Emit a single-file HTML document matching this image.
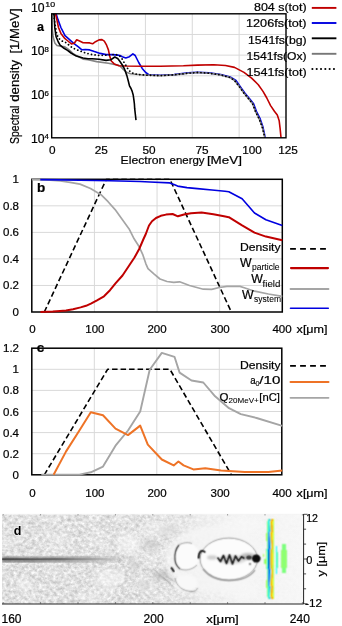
<!DOCTYPE html>
<html><head><meta charset="utf-8"><style>
html,body{margin:0;padding:0;background:#fff;width:342px;height:626px;overflow:hidden}
svg{display:block;will-change:transform}
text{font-family:"Liberation Sans", sans-serif;fill:#000;stroke:#000;stroke-width:0.22px;paint-order:stroke}
</style></head><body>
<svg width="342" height="626" viewBox="0 0 342 626">
<defs>
<clipPath id="clipA"><rect x="51.7" y="13.8" width="234.3" height="124.00000000000001"/></clipPath>
<clipPath id="clipB"><rect x="31.8" y="179.3" width="250.5" height="132.7"/></clipPath>
<clipPath id="clipC"><rect x="31.8" y="348.2" width="250.0" height="126.60000000000002"/></clipPath>
<clipPath id="clipB2"><rect x="30.8" y="178.3" width="252.5" height="134.7"/></clipPath>
<clipPath id="clipC2"><rect x="30.8" y="347.2" width="252.0" height="128.60000000000002"/></clipPath>
<clipPath id="clipD"><rect x="2.0" y="514.0" width="301.6" height="90.0"/></clipPath>
<filter id="blot" x="0" y="0" width="100%" height="100%" color-interpolation-filters="sRGB"><feTurbulence type="fractalNoise" baseFrequency="0.28 0.32" numOctaves="3" seed="7"/><feColorMatrix type="matrix" values="0.36 0 0 0 0.695  0.36 0 0 0 0.695  0.36 0 0 0 0.695  0 0 0 0 1"/></filter>
<filter id="grain" x="0" y="0" width="100%" height="100%" color-interpolation-filters="sRGB"><feTurbulence type="fractalNoise" baseFrequency="0.045 0.06" numOctaves="2" seed="19"/><feColorMatrix type="matrix" values="0 0 0 0 1  0 0 0 0 1  0 0 0 0 1  1.2 0 0 0 -0.5"/></filter>
<linearGradient id="texfade" gradientUnits="userSpaceOnUse" x1="2" y1="0" x2="304" y2="0"><stop offset="0" stop-color="#fff"/><stop offset="0.45" stop-color="#fff"/><stop offset="0.58" stop-color="#bbb"/><stop offset="0.66" stop-color="#555"/><stop offset="0.8" stop-color="#1a1a1a"/><stop offset="1" stop-color="#111"/></linearGradient>
<mask id="texmask" maskUnits="userSpaceOnUse" x="0" y="500" width="342" height="120"><rect x="2" y="514" width="302" height="90" fill="url(#texfade)"/></mask>
<filter id="blur1" x="-20%" y="-300%" width="140%" height="700%"><feGaussianBlur stdDeviation="1"/></filter>
<filter id="blur2" x="-50%" y="-300%" width="200%" height="700%"><feGaussianBlur stdDeviation="2.5"/></filter>
<filter id="blur05" x="-20%" y="-50%" width="140%" height="200%"><feConvolveMatrix order="3" kernelMatrix="1 2 1 2 8 2 1 2 1" divisor="20" edgeMode="none"/></filter>
<filter id="blur04" x="-20%" y="-20%" width="140%" height="140%"><feConvolveMatrix order="3" kernelMatrix="1 2 1 2 4 2 1 2 1" divisor="16" edgeMode="none"/></filter>
<filter id="blur03" x="-20%" y="-20%" width="140%" height="140%"><feConvolveMatrix order="3" kernelMatrix="1 2 1 2 12 2 1 2 1" divisor="24" edgeMode="none"/></filter>
<linearGradient id="dbg" gradientUnits="userSpaceOnUse" x1="2" y1="0" x2="304" y2="0"><stop offset="0" stop-color="#e4e4e4"/><stop offset="0.33" stop-color="#e7e7e7"/><stop offset="0.45" stop-color="#eaeaea"/><stop offset="0.56" stop-color="#eeeeee"/><stop offset="0.68" stop-color="#f4f4f4"/><stop offset="1" stop-color="#f9f9f9"/></linearGradient>
<linearGradient id="haloG" gradientUnits="userSpaceOnUse" x1="2" y1="0" x2="140" y2="0"><stop offset="0" stop-color="#a0a0a0"/><stop offset="0.6" stop-color="#a0a0a0"/><stop offset="1" stop-color="#a0a0a0" stop-opacity="0"/></linearGradient>
<linearGradient id="bandg" gradientUnits="userSpaceOnUse" x1="2" y1="0" x2="125" y2="0"><stop offset="0" stop-color="#444" stop-opacity="1"/><stop offset="0.2" stop-color="#555" stop-opacity="1"/><stop offset="0.45" stop-color="#666" stop-opacity="0.95"/><stop offset="0.65" stop-color="#888" stop-opacity="0.8"/><stop offset="0.85" stop-color="#aaa" stop-opacity="0.5"/><stop offset="1" stop-color="#c0c0c0" stop-opacity="0"/></linearGradient>
</defs>
<line x1="98.56" y1="13.8" x2="98.56" y2="137.8" stroke="#d9d9d9" stroke-width="1"/>
<line x1="145.42" y1="13.8" x2="145.42" y2="137.8" stroke="#d9d9d9" stroke-width="1"/>
<line x1="192.28" y1="13.8" x2="192.28" y2="137.8" stroke="#d9d9d9" stroke-width="1"/>
<line x1="239.14" y1="13.8" x2="239.14" y2="137.8" stroke="#d9d9d9" stroke-width="1"/>
<line x1="51.7" y1="117.13" x2="286.0" y2="117.13" stroke="#d9d9d9" stroke-width="1"/>
<line x1="51.7" y1="96.47" x2="286.0" y2="96.47" stroke="#d9d9d9" stroke-width="1"/>
<line x1="51.7" y1="75.80" x2="286.0" y2="75.80" stroke="#d9d9d9" stroke-width="1"/>
<line x1="51.7" y1="55.13" x2="286.0" y2="55.13" stroke="#d9d9d9" stroke-width="1"/>
<line x1="51.7" y1="34.47" x2="286.0" y2="34.47" stroke="#d9d9d9" stroke-width="1"/>
<g clip-path="url(#clipA)">
<polyline points="55.9,13.0 57.9,19.4 60.9,27.5 65.0,35.7 69.0,39.2 73.7,43.3 78.4,46.8 81.9,49.8 85.4,49.5 89.7,49.9 94.4,51.6 100.2,53.4 106.1,54.6 113.1,54.6 117.7,55.1 120.0,55.5 122.3,56.7 125.8,57.9 129.4,56.7 132.9,53.8 135.2,55.5 138.7,62.5 142.2,68.4 145.7,72.5 149.2,74.8 160.0,75.2 174.0,74.6 188.1,72.9 197.4,72.2 209.1,72.9 220.8,74.6 230.2,77.0 236.0,80.5 240.3,86.6 245.0,93.3 249.8,99.0 253.6,103.7 256.4,111.3 260.2,118.9 262.8,126.5 264.5,134.1 265.2,138.5" fill="none" stroke="#0000e0" stroke-width="1.6" stroke-linejoin="round" stroke-linecap="butt"/>
<polyline points="52.1,13.0 52.1,20.0 52.2,28.0 53.1,36.8 54.8,42.9 57.0,45.5 61.4,46.4 64.9,46.9 67.5,48.6 70.2,50.8 72.8,53.4 76.3,55.5 83.1,59.1 88.0,59.7 96.7,61.6 108.4,63.3 117.7,65.1 120.0,66.0 123.5,69.6 127.0,72.5 130.5,73.7 135.2,74.2 141.0,74.8 149.2,75.2 160.0,75.6 174.0,74.9 188.1,73.2 197.4,72.5 209.1,73.2 220.8,74.9 225.0,76.2 230.2,77.6 234.5,80.5 239.3,86.6 244.0,93.3 248.8,99.0 252.6,103.7 255.4,111.3 259.2,118.9 262.1,126.5 264.0,134.1 264.9,138.5" fill="none" stroke="#858585" stroke-width="1.6" stroke-linejoin="round" stroke-linecap="butt"/>
<polyline points="55.3,13.0 56.8,19.4 58.5,27.5 60.9,33.4 64.4,38.1 67.9,41.0 71.4,43.9 74.3,43.3 76.7,39.8 79.6,41.0 83.1,42.7 89.7,42.9 92.6,43.8 95.5,41.7 99.0,39.9 102.0,39.6 104.3,41.1 106.6,45.2 108.4,49.9 109.6,55.7 111.3,61.0 114.2,63.9 118.9,65.7 125.0,66.0 143.4,66.2 160.0,66.2 183.4,65.8 197.4,65.1 213.8,64.8 225.5,65.5 234.5,67.4 244.0,72.4 251.6,78.1 258.3,84.7 263.0,91.4 266.8,98.0 270.6,105.6 274.4,111.3 277.3,115.1 279.2,120.8 280.1,128.4 281.1,138.5" fill="none" stroke="#c00000" stroke-width="1.6" stroke-linejoin="round" stroke-linecap="butt"/>
<polyline points="54.0,13.0 54.4,20.0 54.8,28.0 56.1,36.8 58.3,42.0 60.1,45.1 63.2,47.7 67.5,50.4 71.0,53.0 76.3,56.1 83.1,58.0 88.0,58.8 92.0,58.7 99.0,59.2 106.1,60.4 110.7,59.8 114.8,57.0 117.7,58.5 119.8,61.3 122.0,64.5 124.2,68.3 126.8,75.4 128.3,81.0 129.5,85.9 131.0,88.5 132.1,91.1 133.2,95.0 133.9,99.9 134.4,104.0 134.7,108.7 135.3,114.0 136.0,120.1" fill="none" stroke="#000" stroke-width="1.6" stroke-linejoin="round" stroke-linecap="butt"/>
<polyline points="53.8,14.7 55.0,24.0 56.8,34.6 59.1,38.7 62.0,41.0 66.1,42.7 72.6,48.0 79.6,50.9 86.6,53.3 92.0,54.6 99.0,55.5 106.1,55.1 111.9,54.6 116.0,54.5 120.1,56.3 121.8,58.5 124.1,62.5 126.4,66.0 128.2,69.6 131.1,72.5 135.2,74.0 141.0,74.8 149.2,75.2 160.0,75.6 174.0,74.9 188.1,73.2 197.4,72.5 209.1,73.2 220.8,74.9 225.0,76.2 230.2,77.6 234.5,80.5 239.3,86.6 244.0,93.3 248.8,99.0 252.6,103.7 255.4,111.3 259.2,118.9 262.1,126.5 264.0,134.1 264.9,138.5" fill="none" stroke="#000" stroke-width="1.8" stroke-linejoin="round" stroke-dasharray="0.01,3.6" stroke-linecap="round"/>
</g>
<rect x="51.7" y="13.8" width="234.3" height="124.00000000000001" fill="none" stroke="#000" stroke-width="1.4"/>
<text x="31.0" y="11.8" font-size="12" textLength="13.6" lengthAdjust="spacingAndGlyphs">10</text>
<text x="45.3" y="7.2" font-size="7.8" textLength="9.8" lengthAdjust="spacingAndGlyphs">10</text>
<text x="31.0" y="54.6" font-size="12" textLength="13.6" lengthAdjust="spacingAndGlyphs">10</text>
<text x="44.6" y="51.5" font-size="7.8">8</text>
<text x="31.0" y="99.3" font-size="12" textLength="13.6" lengthAdjust="spacingAndGlyphs">10</text>
<text x="44.6" y="95.8" font-size="7.8">6</text>
<text x="31.0" y="143.4" font-size="12" textLength="13.6" lengthAdjust="spacingAndGlyphs">10</text>
<text x="44.6" y="138.7" font-size="7.8">4</text>
<text x="52.2" y="154.4" font-size="11.8" text-anchor="middle">0</text>
<text x="101.3" y="154.4" font-size="11.8" text-anchor="middle">25</text>
<text x="149.0" y="154.4" font-size="11.8" text-anchor="middle">50</text>
<text x="202" y="154.4" font-size="11.8" text-anchor="middle">75</text>
<text x="252" y="154.4" font-size="11.8" text-anchor="middle">100</text>
<text x="288" y="154.4" font-size="11.8" text-anchor="middle">125</text>
<text x="120.6" y="164.3" font-size="11.8" textLength="44.8" lengthAdjust="spacingAndGlyphs">Electron</text>
<text x="169.6" y="164.3" font-size="11.8" textLength="35.0" lengthAdjust="spacingAndGlyphs">energy</text>
<text x="206.9" y="164.3" font-size="11.8" textLength="35.0" lengthAdjust="spacingAndGlyphs">[MeV]</text>
<text x="0" y="0" font-size="12.3" transform="translate(19.3,143.9) rotate(-90)" textLength="38.3" lengthAdjust="spacingAndGlyphs">Spectral</text>
<text x="0" y="0" font-size="12.3" transform="translate(19.3,101.7) rotate(-90)" textLength="41.7" lengthAdjust="spacingAndGlyphs">density</text>
<text x="0" y="0" font-size="12.3" transform="translate(19.3,53.6) rotate(-90)" textLength="45.2" lengthAdjust="spacingAndGlyphs">[1/MeV]</text>
<text x="37" y="31" font-size="12.5" font-weight="bold">a</text>
<text x="306.6" y="11.4" font-size="11.5" text-anchor="end" textLength="52.60000000000002" lengthAdjust="spacingAndGlyphs">804 s(tot)</text>
<polyline points="311.8,7.9 336.4,7.9" fill="none" stroke="#c00000" stroke-width="1.9" stroke-linejoin="round" stroke-linecap="butt"/>
<text x="306.6" y="26.6" font-size="11.5" text-anchor="end" textLength="60.60000000000002" lengthAdjust="spacingAndGlyphs">1206fs(tot)</text>
<polyline points="311.8,23.0 336.4,23.0" fill="none" stroke="#0000e0" stroke-width="1.9" stroke-linejoin="round" stroke-linecap="butt"/>
<text x="306.6" y="43.6" font-size="11.5" text-anchor="end" textLength="58.60000000000002" lengthAdjust="spacingAndGlyphs">1541fs(bg)</text>
<polyline points="311.8,38.3 336.4,38.3" fill="none" stroke="#000" stroke-width="1.9" stroke-linejoin="round" stroke-linecap="butt"/>
<text x="306.6" y="59.5" font-size="11.5" text-anchor="end" textLength="60.00000000000003" lengthAdjust="spacingAndGlyphs">1541fs(Ox)</text>
<polyline points="311.8,53.8 336.4,53.8" fill="none" stroke="#777" stroke-width="1.9" stroke-linejoin="round" stroke-linecap="butt"/>
<text x="306.6" y="75.5" font-size="11.5" text-anchor="end" textLength="60.00000000000003" lengthAdjust="spacingAndGlyphs">1541fs(tot)</text>
<polyline points="312.4,69.0 335.6,69.0" fill="none" stroke="#000" stroke-width="2.1" stroke-linejoin="round" stroke-dasharray="0.01,4.3" stroke-linecap="round"/>
<line x1="94.42" y1="179.3" x2="94.42" y2="312.0" stroke="#d9d9d9" stroke-width="1"/>
<line x1="157.05" y1="179.3" x2="157.05" y2="312.0" stroke="#d9d9d9" stroke-width="1"/>
<line x1="219.68" y1="179.3" x2="219.68" y2="312.0" stroke="#d9d9d9" stroke-width="1"/>
<line x1="31.8" y1="285.46" x2="282.3" y2="285.46" stroke="#d9d9d9" stroke-width="1"/>
<line x1="31.8" y1="258.92" x2="282.3" y2="258.92" stroke="#d9d9d9" stroke-width="1"/>
<line x1="31.8" y1="232.38" x2="282.3" y2="232.38" stroke="#d9d9d9" stroke-width="1"/>
<line x1="31.8" y1="205.84" x2="282.3" y2="205.84" stroke="#d9d9d9" stroke-width="1"/>
<rect x="31.8" y="179.3" width="250.5" height="132.7" fill="none" stroke="#000" stroke-width="1.5"/>
<g clip-path="url(#clipB2)">
<polyline points="44.3,312.0 106.3,179.3 169.9,179.3 231.3,312.0" fill="none" stroke="#000" stroke-width="1.6" stroke-linejoin="round" stroke-linecap="butt" stroke-dasharray="5.5,3"/>
<polyline points="31.8,179.6 50.0,180.2 60.4,181.0 70.0,182.3 80.0,184.1 90.5,188.5 101.0,194.7 108.1,201.7 115.1,209.6 122.1,219.2 129.1,228.9 134.1,238.8 139.2,246.8 142.9,254.9 145.8,263.6 148.0,268.7 153.9,273.9 160.0,279.0 167.0,281.5 173.7,282.4 179.6,281.8 189.5,285.5 203.3,289.2 211.7,289.3 219.3,287.5 226.9,286.4 240.0,286.4 245.0,288.0 254.6,291.2 268.4,294.0 282.3,296.4" fill="none" stroke="#a5a5a5" stroke-width="1.7" stroke-linejoin="round" stroke-linecap="butt"/>
<polyline points="40.4,311.9 52.8,311.6 60.0,311.0 66.0,310.4 73.0,309.2 80.6,307.4 86.0,305.8 90.9,303.6 97.0,300.3 104.0,296.3 110.0,290.2 115.7,283.2 122.5,275.5 129.0,265.8 134.5,257.5 139.2,249.0 143.5,239.0 145.8,234.0 147.3,230.0 149.0,225.5 152.0,221.2 156.0,218.0 160.8,215.8 166.0,214.6 172.6,214.0 177.9,216.3 184.0,214.5 191.0,213.2 201.6,212.6 213.4,214.2 224.0,216.2 228.8,217.2 242.1,225.4 254.5,232.6 265.9,236.6 282.3,240.3" fill="none" stroke="#c00000" stroke-width="2.0" stroke-linejoin="round" stroke-linecap="butt"/>
</g>
<polyline points="40.3,179.6 60.0,179.9 80.0,180.2 110.0,180.7 140.0,181.5 150.0,182.0 169.7,182.9 174.0,184.5 177.6,186.1 187.0,187.6 197.4,188.6 212.0,190.0 225.0,191.2 228.8,191.7 242.1,198.8 254.5,213.0 265.9,219.7 282.3,225.4" fill="none" stroke="#0000e0" stroke-width="1.6" stroke-linejoin="round" stroke-linecap="butt"/>
<text x="19.0" y="183.3" font-size="11.5" text-anchor="end">1</text>
<text x="19.0" y="209.84" font-size="11.5" text-anchor="end">0.8</text>
<text x="19.0" y="236.38" font-size="11.5" text-anchor="end">0.6</text>
<text x="19.0" y="262.92" font-size="11.5" text-anchor="end">0.4</text>
<text x="19.0" y="289.46" font-size="11.5" text-anchor="end">0.2</text>
<text x="19.0" y="316.0" font-size="11.5" text-anchor="end">0</text>
<text x="32.5" y="332.9" font-size="11.5" text-anchor="middle">0</text>
<text x="94.9" y="332.9" font-size="11.5" text-anchor="middle">100</text>
<text x="157" y="332.9" font-size="11.5" text-anchor="middle">200</text>
<text x="220.1" y="332.9" font-size="11.5" text-anchor="middle">300</text>
<text x="272.4" y="332.9" font-size="11.5" textLength="19.3" lengthAdjust="spacingAndGlyphs">400</text>
<text x="296.6" y="332.9" font-size="11.5" textLength="31" lengthAdjust="spacingAndGlyphs">x[μm]</text>
<text x="37.0" y="191.7" font-size="13.5" font-weight="bold">b</text>
<text x="280.6" y="251.4" font-size="11.5" text-anchor="end" textLength="40.6" lengthAdjust="spacingAndGlyphs">Density</text>
<polyline points="290.1,248.8 326.5,248.8" fill="none" stroke="#000" stroke-width="1.7" stroke-linejoin="round" stroke-linecap="butt" stroke-dasharray="5.8,4.2"/>
<text x="240.0" y="266.8" font-size="12" textLength="11.6" lengthAdjust="spacingAndGlyphs">W</text>
<text x="252.0" y="270.2" font-size="9" textLength="27.6" lengthAdjust="spacingAndGlyphs" style="stroke-width:0.08px">particle</text>
<polyline points="291.0,268.1 328.0,268.1" fill="none" stroke="#c00000" stroke-width="2.2" stroke-linejoin="round" stroke-linecap="round"/>
<text x="251.2" y="283.3" font-size="12" textLength="11.6" lengthAdjust="spacingAndGlyphs">W</text>
<text x="262.6" y="286.8" font-size="9" textLength="17.8" lengthAdjust="spacingAndGlyphs" style="stroke-width:0.08px">field</text>
<polyline points="290.5,289.0 328.5,289.0" fill="none" stroke="#a5a5a5" stroke-width="1.8" stroke-linejoin="round" stroke-linecap="round"/>
<text x="242.1" y="298.8" font-size="12" textLength="11.6" lengthAdjust="spacingAndGlyphs">W</text>
<text x="254.0" y="302.4" font-size="9" textLength="27.0" lengthAdjust="spacingAndGlyphs" style="stroke-width:0.08px">system</text>
<polyline points="290.5,308.3 328.3,308.3" fill="none" stroke="#0000e0" stroke-width="1.6" stroke-linejoin="round" stroke-linecap="round"/>
<line x1="94.30" y1="348.2" x2="94.30" y2="474.8" stroke="#d9d9d9" stroke-width="1"/>
<line x1="156.80" y1="348.2" x2="156.80" y2="474.8" stroke="#d9d9d9" stroke-width="1"/>
<line x1="219.30" y1="348.2" x2="219.30" y2="474.8" stroke="#d9d9d9" stroke-width="1"/>
<line x1="31.8" y1="453.70" x2="281.8" y2="453.70" stroke="#d9d9d9" stroke-width="1"/>
<line x1="31.8" y1="432.60" x2="281.8" y2="432.60" stroke="#d9d9d9" stroke-width="1"/>
<line x1="31.8" y1="411.50" x2="281.8" y2="411.50" stroke="#d9d9d9" stroke-width="1"/>
<line x1="31.8" y1="390.40" x2="281.8" y2="390.40" stroke="#d9d9d9" stroke-width="1"/>
<line x1="31.8" y1="369.30" x2="281.8" y2="369.30" stroke="#d9d9d9" stroke-width="1"/>
<rect x="31.8" y="348.2" width="250.0" height="126.60000000000002" fill="none" stroke="#000" stroke-width="1.5"/>
<g clip-path="url(#clipC2)">
<polyline points="44.3,474.8 107.6,369.3 169.9,369.3 231.4,474.8" fill="none" stroke="#000" stroke-width="1.6" stroke-linejoin="round" stroke-linecap="butt" stroke-dasharray="5.5,3"/>
<polyline points="41.3,474.6 79.4,474.6 90.8,472.3 103.0,466.6 115.5,445.7 128.0,430.5 140.2,411.5 149.7,369.7 161.8,352.9 174.5,356.8 179.6,372.6 191.5,380.5 203.3,382.5 215.1,396.3 229.0,408.2 240.8,414.1 256.6,418.0 282.3,425.9" fill="none" stroke="#a5a5a5" stroke-width="1.9" stroke-linejoin="round" stroke-linecap="butt"/>
<polyline points="53.6,474.8 66.1,451.4 79.4,430.5 90.8,412.3 103.0,415.3 115.5,428.6 128.0,435.1 140.2,425.6 147.8,444.6 161.8,459.5 173.7,465.4 178.4,461.5 183.6,465.4 193.4,469.4 205.3,468.2 221.1,470.5 244.7,472.1 268.4,472.1 282.3,470.5" fill="none" stroke="#ee7326" stroke-width="2.0" stroke-linejoin="round" stroke-linecap="butt"/>
</g>
<text x="19.0" y="352.2" font-size="11.5" text-anchor="end">1.2</text>
<text x="19.0" y="373.29999999999995" font-size="11.5" text-anchor="end">1</text>
<text x="19.0" y="394.4" font-size="11.5" text-anchor="end">0.8</text>
<text x="19.0" y="415.5" font-size="11.5" text-anchor="end">0.6</text>
<text x="19.0" y="436.6" font-size="11.5" text-anchor="end">0.4</text>
<text x="19.0" y="457.7" font-size="11.5" text-anchor="end">0.2</text>
<text x="19.0" y="478.8" font-size="11.5" text-anchor="end">0</text>
<text x="32.5" y="496.7" font-size="11.5" text-anchor="middle">0</text>
<text x="94.9" y="496.7" font-size="11.5" text-anchor="middle">100</text>
<text x="157" y="496.7" font-size="11.5" text-anchor="middle">200</text>
<text x="220.1" y="496.7" font-size="11.5" text-anchor="middle">300</text>
<text x="272.4" y="496.7" font-size="11.5" textLength="19.3" lengthAdjust="spacingAndGlyphs">400</text>
<text x="296.6" y="496.7" font-size="11.5" textLength="31" lengthAdjust="spacingAndGlyphs">x[μm]</text>
<text x="36.8" y="352.4" font-size="13.5" font-weight="bold">c</text>
<text x="280.6" y="369.0" font-size="11.5" text-anchor="end" textLength="40.6" lengthAdjust="spacingAndGlyphs">Density</text>
<polyline points="290.1,365.9 326.5,365.9" fill="none" stroke="#000" stroke-width="1.7" stroke-linejoin="round" stroke-linecap="butt" stroke-dasharray="5.8,4.2"/>
<text x="250.3" y="383.8" font-size="11.5" textLength="5.4" lengthAdjust="spacingAndGlyphs">a</text>
<text x="255.6" y="386.4" font-size="8" textLength="4.0" lengthAdjust="spacingAndGlyphs" style="stroke-width:0.08px">0</text>
<text x="259.3" y="383.8" font-size="11.5" textLength="21.0" lengthAdjust="spacingAndGlyphs">/10</text>
<polyline points="290.5,382.0 328.5,382.0" fill="none" stroke="#ee7326" stroke-width="2.0" stroke-linejoin="round" stroke-linecap="round"/>
<text x="219.4" y="400.7" font-size="11.5">Q</text>
<text x="228.6" y="403.0" font-size="8" textLength="30.2" lengthAdjust="spacingAndGlyphs" style="stroke-width:0.08px">20MeV+</text>
<text x="259.3" y="400.7" font-size="11.5" textLength="20.6" lengthAdjust="spacingAndGlyphs">[nC]</text>
<polyline points="290.5,397.8 328.5,397.8" fill="none" stroke="#a5a5a5" stroke-width="1.8" stroke-linejoin="round" stroke-linecap="round"/>
<rect x="2.0" y="514.0" width="301.6" height="90.0" fill="url(#dbg)"/>
<g clip-path="url(#clipD)">
<g mask="url(#texmask)">
<rect x="2.0" y="514.0" width="301.6" height="90.0" filter="url(#blot)"/>
<rect x="2.0" y="514.0" width="301.6" height="90.0" filter="url(#grain)" opacity="0.6"/>
</g>
<ellipse cx="128" cy="544" rx="11" ry="11" fill="#fbfbfb" opacity="0.55" filter="url(#blur2)"/>
<ellipse cx="111" cy="578" rx="15" ry="10" fill="#fbfbfb" opacity="0.5" filter="url(#blur2)"/>
<ellipse cx="25" cy="586" rx="8" ry="6" fill="#fbfbfb" opacity="0.5" filter="url(#blur2)"/>
<ellipse cx="60" cy="540" rx="14" ry="9" fill="#fbfbfb" opacity="0.25" filter="url(#blur2)"/>
<ellipse cx="150" cy="530" rx="12" ry="8" fill="#fbfbfb" opacity="0.35" filter="url(#blur2)"/>
<ellipse cx="88" cy="596" rx="12" ry="6" fill="#fbfbfb" opacity="0.3" filter="url(#blur2)"/>
<ellipse cx="240" cy="590" rx="20" ry="10" fill="#fbfbfb" opacity="0.4" filter="url(#blur2)"/>
<ellipse cx="240" cy="526" rx="22" ry="9" fill="#fbfbfb" opacity="0.4" filter="url(#blur2)"/>
<ellipse cx="111" cy="578" rx="15" ry="10" fill="none" stroke="#a8a8a8" stroke-width="0.8" opacity="0.4" filter="url(#blur05)"/>
<path d="M118,534 a11,11 0 0,0 -1,20" fill="none" stroke="#a8a8a8" stroke-width="0.8" opacity="0.4" filter="url(#blur05)"/>
<path d="M2,559.6 C20,559.0 40,560.2 60,559.4 S95,559.8 110,559.2 S130,558.8 140,558.8" fill="none" stroke="url(#haloG)" stroke-width="7" opacity="0.45" filter="url(#blur2)"/>
<path d="M2,559.7 C15,559.2 30,560.3 45,559.5 S70,560 85,559.4 S110,559 135,558.8" fill="none" stroke="url(#bandg)" stroke-width="5" opacity="0.6" filter="url(#blur1)"/>
<path d="M2,559.6 C15,559.2 30,560.2 45,559.5 S70,559.9 85,559.4 S110,559 135,558.8" fill="none" stroke="url(#bandg)" stroke-width="2.6" filter="url(#blur04)"/>
<ellipse cx="150" cy="545" rx="8" ry="5" fill="#c4c4c4" opacity="0.6" filter="url(#blur2)"/>
<ellipse cx="162" cy="575" rx="9" ry="4" fill="#b0b0b0" opacity="0.6" filter="url(#blur2)"/>
<ellipse cx="145" cy="585" rx="7" ry="4" fill="#c8c8c8" opacity="0.5" filter="url(#blur2)"/>
<ellipse cx="168" cy="530" rx="10" ry="5" fill="#cfcfcf" opacity="0.5" filter="url(#blur2)"/>
<ellipse cx="135" cy="565" rx="6" ry="5" fill="#c8c8c8" opacity="0.5" filter="url(#blur2)"/>
<path d="M155,570 C160,576 165,580 171,583" fill="none" stroke="#888" stroke-width="1" opacity="0.5" filter="url(#blur05)"/>
<ellipse cx="215" cy="559" rx="50" ry="34" fill="#f6f6f6" opacity="0.8" filter="url(#blur2)"/>
<ellipse cx="186" cy="583" rx="11.5" ry="8.5" fill="#f8f8f8" filter="url(#blur1)"/>
<path d="M175,578 C176,586 183,591.5 192,591.5 C195,591.5 197,590 197.5,588" fill="none" stroke="#777" stroke-width="0.9" opacity="0.8" filter="url(#blur05)"/>
<path d="M171,567.5 C172.5,569 173.5,570.5 174,572" fill="none" stroke="#222" stroke-width="2.0" filter="url(#blur05)"/>
<path d="M163,577 C166,580 169,583 173,586 M166,576 C169,578 172,580 175,582" fill="none" stroke="#888" stroke-width="0.8" opacity="0.6" filter="url(#blur05)"/>
<ellipse cx="186.5" cy="556.3" rx="12.5" ry="13.5" fill="#fbfbfb" filter="url(#blur05)"/>
<path d="M179,545 C175.5,549 174.5,555 175,560 C175.5,564 177.5,567 180,569" fill="none" stroke="#3a3a3a" stroke-width="1.3" filter="url(#blur05)"/>
<path d="M179,545 C183,542.5 188,542 192,543.5" fill="none" stroke="#888" stroke-width="0.8" filter="url(#blur05)"/>
<path d="M180,569 C185,571 192,570 197,565" fill="none" stroke="#999" stroke-width="0.9" filter="url(#blur05)"/>
<ellipse cx="228.8" cy="559.1" rx="28.7" ry="21" fill="#fcfcfc" stroke="#8a8a8a" stroke-width="0.9" filter="url(#blur05)"/>
<path d="M203,569 C210,578 220,580.5 229,580.5 C240,580.5 250,577 255,570" fill="none" stroke="#a0a0a0" stroke-width="1.4" filter="url(#blur05)"/>
<path d="M198.6,558.5 C198.6,555 199.3,552.3 201,551.2 C202.5,550.5 204,551 205.2,552.5" fill="none" stroke="#0a0a0a" stroke-width="1.9" filter="url(#blur05)"/>
<ellipse cx="212" cy="557.5" rx="5" ry="2.2" fill="#b0b0b0" opacity="0.6" filter="url(#blur1)"/>
<ellipse cx="248" cy="556.5" rx="8" ry="3.5" fill="#8a8a8a" opacity="0.55" filter="url(#blur1)"/>
<ellipse cx="232" cy="559.5" rx="14" ry="4.5" fill="#b8b8b8" opacity="0.5" filter="url(#blur1)"/>
<polyline points="217.5,557.5 220.5,561.5 223.5,555.5 226.5,563.5 229.5,555 232.5,564 235.5,556 238.5,561 241.5,556.8 244.5,558.5" fill="none" stroke="#161616" stroke-width="1.7" stroke-linejoin="round" filter="url(#blur05)"/>
<ellipse cx="256.3" cy="558.6" rx="4.3" ry="4" fill="#0e0e0e" filter="url(#blur05)"/>
<ellipse cx="249" cy="557.5" rx="2.8" ry="2" fill="#3a3a3a" filter="url(#blur05)"/>
<circle cx="250" cy="564" r="1.3" fill="#999" filter="url(#blur05)"/>
<g filter="url(#blur04)" shape-rendering="crispEdges">
<rect x="267.58" y="519.3" width="0.55" height="1.05" fill="#7fff7f"/>
<rect x="268.08" y="519.3" width="0.55" height="1.05" fill="#54ffaa"/>
<rect x="268.58" y="519.3" width="0.55" height="1.05" fill="#00ffff"/>
<rect x="269.08" y="519.3" width="0.55" height="1.05" fill="#00aaff"/>
<rect x="269.58" y="519.3" width="0.55" height="1.05" fill="#00d4ff"/>
<rect x="270.08" y="519.3" width="0.55" height="1.05" fill="#54ffaa"/>
<rect x="270.58" y="519.3" width="0.55" height="1.05" fill="#ffff00"/>
<rect x="271.08" y="519.3" width="1.05" height="1.05" fill="#ff7f00"/>
<rect x="272.08" y="519.3" width="0.55" height="1.05" fill="#ffa900"/>
<rect x="272.58" y="519.3" width="1.05" height="1.05" fill="#d4ff2a"/>
<rect x="273.58" y="519.3" width="0.28" height="1.05" fill="#7fff7f"/>
<rect x="267.53" y="520.3" width="0.55" height="1.05" fill="#7fff7f"/>
<rect x="268.03" y="520.3" width="0.55" height="1.05" fill="#54ffaa"/>
<rect x="268.53" y="520.3" width="0.55" height="1.05" fill="#00ffff"/>
<rect x="269.03" y="520.3" width="0.55" height="1.05" fill="#00aaff"/>
<rect x="269.53" y="520.3" width="0.55" height="1.05" fill="#00d4ff"/>
<rect x="270.03" y="520.3" width="0.55" height="1.05" fill="#54ffaa"/>
<rect x="270.53" y="520.3" width="0.55" height="1.05" fill="#ffff00"/>
<rect x="271.03" y="520.3" width="1.05" height="1.05" fill="#ff7f00"/>
<rect x="272.03" y="520.3" width="0.55" height="1.05" fill="#ffa900"/>
<rect x="272.53" y="520.3" width="0.55" height="1.05" fill="#ffff00"/>
<rect x="273.03" y="520.3" width="0.55" height="1.05" fill="#d4ff2a"/>
<rect x="273.53" y="520.3" width="0.33" height="1.05" fill="#a9ff55"/>
<rect x="267.48" y="521.3" width="0.55" height="1.05" fill="#7fff7f"/>
<rect x="267.98" y="521.3" width="0.55" height="1.05" fill="#54ffaa"/>
<rect x="268.48" y="521.3" width="0.55" height="1.05" fill="#00ffff"/>
<rect x="268.98" y="521.3" width="0.55" height="1.05" fill="#00aaff"/>
<rect x="269.48" y="521.3" width="0.55" height="1.05" fill="#00d4ff"/>
<rect x="269.98" y="521.3" width="0.55" height="1.05" fill="#54ffaa"/>
<rect x="270.48" y="521.3" width="0.55" height="1.05" fill="#ffff00"/>
<rect x="270.98" y="521.3" width="1.05" height="1.05" fill="#ff7f00"/>
<rect x="271.98" y="521.3" width="0.55" height="1.05" fill="#ffa900"/>
<rect x="272.48" y="521.3" width="0.55" height="1.05" fill="#ffff00"/>
<rect x="272.98" y="521.3" width="0.55" height="1.05" fill="#d4ff2a"/>
<rect x="273.48" y="521.3" width="0.39" height="1.05" fill="#a9ff55"/>
<rect x="267.44" y="522.3" width="0.55" height="1.05" fill="#7fff7f"/>
<rect x="267.94" y="522.3" width="0.55" height="1.05" fill="#54ffaa"/>
<rect x="268.44" y="522.3" width="0.55" height="1.05" fill="#00ffff"/>
<rect x="268.94" y="522.3" width="0.55" height="1.05" fill="#00aaff"/>
<rect x="269.44" y="522.3" width="0.55" height="1.05" fill="#00d4ff"/>
<rect x="269.94" y="522.3" width="0.55" height="1.05" fill="#2affd4"/>
<rect x="270.44" y="522.3" width="0.55" height="1.05" fill="#d4ff2a"/>
<rect x="270.94" y="522.3" width="0.55" height="1.05" fill="#ffa900"/>
<rect x="271.44" y="522.3" width="0.55" height="1.05" fill="#ff7f00"/>
<rect x="271.94" y="522.3" width="0.55" height="1.05" fill="#ffa900"/>
<rect x="272.44" y="522.3" width="0.55" height="1.05" fill="#ffff00"/>
<rect x="272.94" y="522.3" width="0.55" height="1.05" fill="#d4ff2a"/>
<rect x="273.44" y="522.3" width="0.44" height="1.05" fill="#a9ff55"/>
<rect x="267.39" y="523.3" width="0.55" height="1.05" fill="#7fff7f"/>
<rect x="267.89" y="523.3" width="0.55" height="1.05" fill="#54ffaa"/>
<rect x="268.39" y="523.3" width="0.55" height="1.05" fill="#2affd4"/>
<rect x="268.89" y="523.3" width="0.55" height="1.05" fill="#00aaff"/>
<rect x="269.39" y="523.3" width="0.55" height="1.05" fill="#00d4ff"/>
<rect x="269.89" y="523.3" width="0.55" height="1.05" fill="#2affd4"/>
<rect x="270.39" y="523.3" width="0.55" height="1.05" fill="#d4ff2a"/>
<rect x="270.89" y="523.3" width="0.55" height="1.05" fill="#ffa900"/>
<rect x="271.39" y="523.3" width="0.55" height="1.05" fill="#ff7f00"/>
<rect x="271.89" y="523.3" width="0.55" height="1.05" fill="#ffa900"/>
<rect x="272.39" y="523.3" width="0.55" height="1.05" fill="#ffff00"/>
<rect x="272.89" y="523.3" width="0.55" height="1.05" fill="#d4ff2a"/>
<rect x="273.39" y="523.3" width="0.50" height="1.05" fill="#a9ff55"/>
<rect x="267.34" y="524.3" width="0.55" height="1.05" fill="#7fff7f"/>
<rect x="267.84" y="524.3" width="0.55" height="1.05" fill="#54ffaa"/>
<rect x="268.34" y="524.3" width="0.55" height="1.05" fill="#2affd4"/>
<rect x="268.84" y="524.3" width="0.55" height="1.05" fill="#00aaff"/>
<rect x="269.34" y="524.3" width="0.55" height="1.05" fill="#00d4ff"/>
<rect x="269.84" y="524.3" width="0.55" height="1.05" fill="#2affd4"/>
<rect x="270.34" y="524.3" width="0.55" height="1.05" fill="#d4ff2a"/>
<rect x="270.84" y="524.3" width="0.55" height="1.05" fill="#ffa900"/>
<rect x="271.34" y="524.3" width="1.05" height="1.05" fill="#ff7f00"/>
<rect x="272.34" y="524.3" width="0.55" height="1.05" fill="#ffff00"/>
<rect x="272.84" y="524.3" width="0.55" height="1.05" fill="#d4ff2a"/>
<rect x="273.34" y="524.3" width="0.55" height="1.05" fill="#a9ff55"/>
<rect x="267.30" y="525.3" width="0.55" height="1.05" fill="#7fff7f"/>
<rect x="267.80" y="525.3" width="0.55" height="1.05" fill="#54ffaa"/>
<rect x="268.30" y="525.3" width="0.55" height="1.05" fill="#2affd4"/>
<rect x="268.80" y="525.3" width="0.55" height="1.05" fill="#00aaff"/>
<rect x="269.30" y="525.3" width="0.55" height="1.05" fill="#00d4ff"/>
<rect x="269.80" y="525.3" width="0.55" height="1.05" fill="#00ffff"/>
<rect x="270.30" y="525.3" width="0.55" height="1.05" fill="#a9ff55"/>
<rect x="270.80" y="525.3" width="0.55" height="1.05" fill="#ffa900"/>
<rect x="271.30" y="525.3" width="1.05" height="1.05" fill="#ff7f00"/>
<rect x="272.30" y="525.3" width="0.55" height="1.05" fill="#ffd400"/>
<rect x="272.80" y="525.3" width="0.55" height="1.05" fill="#d4ff2a"/>
<rect x="273.30" y="525.3" width="0.55" height="1.05" fill="#a9ff55"/>
<rect x="273.80" y="525.3" width="0.10" height="1.05" fill="#7fff7f"/>
<rect x="267.25" y="526.3" width="0.55" height="1.05" fill="#7fff7f"/>
<rect x="267.75" y="526.3" width="0.55" height="1.05" fill="#54ffaa"/>
<rect x="268.25" y="526.3" width="0.55" height="1.05" fill="#2affd4"/>
<rect x="268.75" y="526.3" width="1.05" height="1.05" fill="#00aaff"/>
<rect x="269.75" y="526.3" width="0.55" height="1.05" fill="#00ffff"/>
<rect x="270.25" y="526.3" width="0.55" height="1.05" fill="#a9ff55"/>
<rect x="270.75" y="526.3" width="0.55" height="1.05" fill="#ffd400"/>
<rect x="271.25" y="526.3" width="1.05" height="1.05" fill="#ff7f00"/>
<rect x="272.25" y="526.3" width="0.55" height="1.05" fill="#ffd400"/>
<rect x="272.75" y="526.3" width="0.55" height="1.05" fill="#d4ff2a"/>
<rect x="273.25" y="526.3" width="0.55" height="1.05" fill="#a9ff55"/>
<rect x="273.75" y="526.3" width="0.16" height="1.05" fill="#7fff7f"/>
<rect x="267.21" y="527.3" width="0.55" height="1.05" fill="#7fff7f"/>
<rect x="267.71" y="527.3" width="0.55" height="1.05" fill="#54ffaa"/>
<rect x="268.21" y="527.3" width="0.55" height="1.05" fill="#2affd4"/>
<rect x="268.71" y="527.3" width="1.05" height="1.05" fill="#00aaff"/>
<rect x="269.71" y="527.3" width="0.55" height="1.05" fill="#00ffff"/>
<rect x="270.21" y="527.3" width="0.55" height="1.05" fill="#a9ff55"/>
<rect x="270.71" y="527.3" width="0.55" height="1.05" fill="#ffd400"/>
<rect x="271.21" y="527.3" width="1.05" height="1.05" fill="#ff7f00"/>
<rect x="272.21" y="527.3" width="0.55" height="1.05" fill="#ffd400"/>
<rect x="272.71" y="527.3" width="0.55" height="1.05" fill="#d4ff2a"/>
<rect x="273.21" y="527.3" width="0.55" height="1.05" fill="#a9ff55"/>
<rect x="273.71" y="527.3" width="0.21" height="1.05" fill="#7fff7f"/>
<rect x="267.16" y="528.3" width="0.55" height="1.05" fill="#7fff7f"/>
<rect x="267.66" y="528.3" width="0.55" height="1.05" fill="#54ffaa"/>
<rect x="268.16" y="528.3" width="0.55" height="1.05" fill="#2affd4"/>
<rect x="268.66" y="528.3" width="1.05" height="1.05" fill="#00aaff"/>
<rect x="269.66" y="528.3" width="0.55" height="1.05" fill="#00d4ff"/>
<rect x="270.16" y="528.3" width="0.55" height="1.05" fill="#7fff7f"/>
<rect x="270.66" y="528.3" width="0.55" height="1.05" fill="#ffd400"/>
<rect x="271.16" y="528.3" width="1.05" height="1.05" fill="#ff7f00"/>
<rect x="272.16" y="528.3" width="0.55" height="1.05" fill="#ffd400"/>
<rect x="272.66" y="528.3" width="0.55" height="1.05" fill="#d4ff2a"/>
<rect x="273.16" y="528.3" width="0.55" height="1.05" fill="#a9ff55"/>
<rect x="273.66" y="528.3" width="0.26" height="1.05" fill="#7fff7f"/>
<rect x="267.12" y="529.3" width="0.55" height="1.05" fill="#7fff7f"/>
<rect x="267.62" y="529.3" width="0.55" height="1.05" fill="#54ffaa"/>
<rect x="268.12" y="529.3" width="0.55" height="1.05" fill="#2affd4"/>
<rect x="268.62" y="529.3" width="1.05" height="1.05" fill="#00aaff"/>
<rect x="269.62" y="529.3" width="0.55" height="1.05" fill="#00d4ff"/>
<rect x="270.12" y="529.3" width="0.55" height="1.05" fill="#7fff7f"/>
<rect x="270.62" y="529.3" width="0.55" height="1.05" fill="#ffd400"/>
<rect x="271.12" y="529.3" width="1.05" height="1.05" fill="#ff7f00"/>
<rect x="272.12" y="529.3" width="0.55" height="1.05" fill="#ffd400"/>
<rect x="272.62" y="529.3" width="0.55" height="1.05" fill="#d4ff2a"/>
<rect x="273.12" y="529.3" width="0.81" height="1.05" fill="#a9ff55"/>
<rect x="267.08" y="530.3" width="0.55" height="1.05" fill="#7fff7f"/>
<rect x="267.58" y="530.3" width="0.55" height="1.05" fill="#54ffaa"/>
<rect x="268.08" y="530.3" width="0.55" height="1.05" fill="#2affd4"/>
<rect x="268.58" y="530.3" width="1.55" height="1.05" fill="#00aaff"/>
<rect x="270.08" y="530.3" width="0.55" height="1.05" fill="#54ffaa"/>
<rect x="270.58" y="530.3" width="0.55" height="1.05" fill="#ffff00"/>
<rect x="271.08" y="530.3" width="1.05" height="1.05" fill="#ff7f00"/>
<rect x="272.08" y="530.3" width="0.55" height="1.05" fill="#ffd400"/>
<rect x="272.58" y="530.3" width="0.55" height="1.05" fill="#d4ff2a"/>
<rect x="273.08" y="530.3" width="0.86" height="1.05" fill="#a9ff55"/>
<rect x="267.04" y="531.3" width="0.55" height="1.05" fill="#7fff7f"/>
<rect x="267.54" y="531.3" width="0.55" height="1.05" fill="#54ffaa"/>
<rect x="268.04" y="531.3" width="0.55" height="1.05" fill="#2affd4"/>
<rect x="268.54" y="531.3" width="0.55" height="1.05" fill="#00aaff"/>
<rect x="269.04" y="531.3" width="0.55" height="1.05" fill="#007fff"/>
<rect x="269.54" y="531.3" width="0.55" height="1.05" fill="#00aaff"/>
<rect x="270.04" y="531.3" width="0.55" height="1.05" fill="#54ffaa"/>
<rect x="270.54" y="531.3" width="0.55" height="1.05" fill="#ffff00"/>
<rect x="271.04" y="531.3" width="1.05" height="1.05" fill="#ff7f00"/>
<rect x="272.04" y="531.3" width="0.55" height="1.05" fill="#ffa900"/>
<rect x="272.54" y="531.3" width="1.05" height="1.05" fill="#d4ff2a"/>
<rect x="273.54" y="531.3" width="0.41" height="1.05" fill="#a9ff55"/>
<rect x="266.99" y="532.3" width="1.05" height="1.05" fill="#7fff7f"/>
<rect x="267.99" y="532.3" width="0.55" height="1.05" fill="#2affd4"/>
<rect x="268.49" y="532.3" width="0.55" height="1.05" fill="#00aaff"/>
<rect x="268.99" y="532.3" width="0.55" height="1.05" fill="#007fff"/>
<rect x="269.49" y="532.3" width="0.55" height="1.05" fill="#00aaff"/>
<rect x="269.99" y="532.3" width="0.55" height="1.05" fill="#54ffaa"/>
<rect x="270.49" y="532.3" width="0.55" height="1.05" fill="#ffff00"/>
<rect x="270.99" y="532.3" width="1.05" height="1.05" fill="#ff7f00"/>
<rect x="271.99" y="532.3" width="0.55" height="1.05" fill="#ffa900"/>
<rect x="272.49" y="532.3" width="0.55" height="1.05" fill="#ffff00"/>
<rect x="272.99" y="532.3" width="0.55" height="1.05" fill="#d4ff2a"/>
<rect x="273.49" y="532.3" width="0.46" height="1.05" fill="#a9ff55"/>
<rect x="266.95" y="533.3" width="1.05" height="1.05" fill="#7fff7f"/>
<rect x="267.95" y="533.3" width="0.55" height="1.05" fill="#2affd4"/>
<rect x="268.45" y="533.3" width="0.55" height="1.05" fill="#00aaff"/>
<rect x="268.95" y="533.3" width="1.05" height="1.05" fill="#007fff"/>
<rect x="269.95" y="533.3" width="0.55" height="1.05" fill="#2affd4"/>
<rect x="270.45" y="533.3" width="0.55" height="1.05" fill="#d4ff2a"/>
<rect x="270.95" y="533.3" width="1.05" height="1.05" fill="#ff7f00"/>
<rect x="271.95" y="533.3" width="0.55" height="1.05" fill="#ffa900"/>
<rect x="272.45" y="533.3" width="0.55" height="1.05" fill="#ffff00"/>
<rect x="272.95" y="533.3" width="0.55" height="1.05" fill="#d4ff2a"/>
<rect x="273.45" y="533.3" width="0.50" height="1.05" fill="#a9ff55"/>
<rect x="266.92" y="534.3" width="1.05" height="1.05" fill="#7fff7f"/>
<rect x="267.92" y="534.3" width="0.55" height="1.05" fill="#2affd4"/>
<rect x="268.42" y="534.3" width="0.55" height="1.05" fill="#00aaff"/>
<rect x="268.92" y="534.3" width="0.55" height="1.05" fill="#0055ff"/>
<rect x="269.42" y="534.3" width="0.55" height="1.05" fill="#007fff"/>
<rect x="269.92" y="534.3" width="0.55" height="1.05" fill="#2affd4"/>
<rect x="270.42" y="534.3" width="0.55" height="1.05" fill="#d4ff2a"/>
<rect x="270.92" y="534.3" width="0.55" height="1.05" fill="#ffa900"/>
<rect x="271.42" y="534.3" width="0.55" height="1.05" fill="#ff7f00"/>
<rect x="271.92" y="534.3" width="0.55" height="1.05" fill="#ffa900"/>
<rect x="272.42" y="534.3" width="0.55" height="1.05" fill="#ffff00"/>
<rect x="272.92" y="534.3" width="0.55" height="1.05" fill="#d4ff2a"/>
<rect x="273.42" y="534.3" width="0.55" height="1.05" fill="#a9ff55"/>
<rect x="266.88" y="535.3" width="1.05" height="1.05" fill="#7fff7f"/>
<rect x="267.88" y="535.3" width="0.55" height="1.05" fill="#00ffff"/>
<rect x="268.38" y="535.3" width="0.55" height="1.05" fill="#00aaff"/>
<rect x="268.88" y="535.3" width="0.55" height="1.05" fill="#0055ff"/>
<rect x="269.38" y="535.3" width="0.55" height="1.05" fill="#007fff"/>
<rect x="269.88" y="535.3" width="0.55" height="1.05" fill="#00ffff"/>
<rect x="270.38" y="535.3" width="0.55" height="1.05" fill="#d4ff2a"/>
<rect x="270.88" y="535.3" width="0.55" height="1.05" fill="#ffa900"/>
<rect x="271.38" y="535.3" width="0.55" height="1.05" fill="#ff7f00"/>
<rect x="271.88" y="535.3" width="0.55" height="1.05" fill="#ffa900"/>
<rect x="272.38" y="535.3" width="0.55" height="1.05" fill="#ffff00"/>
<rect x="272.88" y="535.3" width="0.55" height="1.05" fill="#d4ff2a"/>
<rect x="273.38" y="535.3" width="0.55" height="1.05" fill="#a9ff55"/>
<rect x="273.88" y="535.3" width="0.09" height="1.05" fill="#7fff7f"/>
<rect x="266.84" y="536.3" width="1.05" height="1.05" fill="#7fff7f"/>
<rect x="267.84" y="536.3" width="0.55" height="1.05" fill="#00ffff"/>
<rect x="268.34" y="536.3" width="0.55" height="1.05" fill="#00aaff"/>
<rect x="268.84" y="536.3" width="1.05" height="1.05" fill="#0055ff"/>
<rect x="269.84" y="536.3" width="0.55" height="1.05" fill="#00ffff"/>
<rect x="270.34" y="536.3" width="0.55" height="1.05" fill="#a9ff55"/>
<rect x="270.84" y="536.3" width="0.55" height="1.05" fill="#ffa900"/>
<rect x="271.34" y="536.3" width="0.55" height="1.05" fill="#ff7f00"/>
<rect x="271.84" y="536.3" width="0.55" height="1.05" fill="#ffa900"/>
<rect x="272.34" y="536.3" width="0.55" height="1.05" fill="#ffff00"/>
<rect x="272.84" y="536.3" width="0.55" height="1.05" fill="#d4ff2a"/>
<rect x="273.34" y="536.3" width="0.55" height="1.05" fill="#a9ff55"/>
<rect x="273.84" y="536.3" width="0.14" height="1.05" fill="#7fff7f"/>
<rect x="266.80" y="537.3" width="1.05" height="1.05" fill="#7fff7f"/>
<rect x="267.80" y="537.3" width="0.55" height="1.05" fill="#00ffff"/>
<rect x="268.30" y="537.3" width="0.55" height="1.05" fill="#007fff"/>
<rect x="268.80" y="537.3" width="1.05" height="1.05" fill="#0055ff"/>
<rect x="269.80" y="537.3" width="0.55" height="1.05" fill="#00d4ff"/>
<rect x="270.30" y="537.3" width="0.55" height="1.05" fill="#a9ff55"/>
<rect x="270.80" y="537.3" width="0.55" height="1.05" fill="#ffd400"/>
<rect x="271.30" y="537.3" width="0.55" height="1.05" fill="#ff7f00"/>
<rect x="271.80" y="537.3" width="0.55" height="1.05" fill="#ffa900"/>
<rect x="272.30" y="537.3" width="0.55" height="1.05" fill="#ffff00"/>
<rect x="272.80" y="537.3" width="0.55" height="1.05" fill="#d4ff2a"/>
<rect x="273.30" y="537.3" width="0.55" height="1.05" fill="#a9ff55"/>
<rect x="273.80" y="537.3" width="0.18" height="1.05" fill="#7fff7f"/>
<rect x="266.77" y="538.3" width="1.05" height="1.05" fill="#7fff7f"/>
<rect x="267.77" y="538.3" width="0.55" height="1.05" fill="#00ffff"/>
<rect x="268.27" y="538.3" width="0.55" height="1.05" fill="#007fff"/>
<rect x="268.77" y="538.3" width="0.55" height="1.05" fill="#002aff"/>
<rect x="269.27" y="538.3" width="0.55" height="1.05" fill="#0055ff"/>
<rect x="269.77" y="538.3" width="0.55" height="1.05" fill="#00d4ff"/>
<rect x="270.27" y="538.3" width="0.55" height="1.05" fill="#7fff7f"/>
<rect x="270.77" y="538.3" width="0.55" height="1.05" fill="#ffd400"/>
<rect x="271.27" y="538.3" width="0.55" height="1.05" fill="#ff7f00"/>
<rect x="271.77" y="538.3" width="0.55" height="1.05" fill="#ffa900"/>
<rect x="272.27" y="538.3" width="0.55" height="1.05" fill="#ffff00"/>
<rect x="272.77" y="538.3" width="0.55" height="1.05" fill="#d4ff2a"/>
<rect x="273.27" y="538.3" width="0.55" height="1.05" fill="#a9ff55"/>
<rect x="273.77" y="538.3" width="0.22" height="1.05" fill="#7fff7f"/>
<rect x="266.74" y="539.3" width="1.05" height="1.05" fill="#7fff7f"/>
<rect x="267.74" y="539.3" width="0.55" height="1.05" fill="#00ffff"/>
<rect x="268.24" y="539.3" width="0.55" height="1.05" fill="#007fff"/>
<rect x="268.74" y="539.3" width="1.05" height="1.05" fill="#002aff"/>
<rect x="269.74" y="539.3" width="0.55" height="1.05" fill="#00aaff"/>
<rect x="270.24" y="539.3" width="0.55" height="1.05" fill="#7fff7f"/>
<rect x="270.74" y="539.3" width="0.55" height="1.05" fill="#ffd400"/>
<rect x="271.24" y="539.3" width="0.55" height="1.05" fill="#ff7f00"/>
<rect x="271.74" y="539.3" width="0.55" height="1.05" fill="#ffa900"/>
<rect x="272.24" y="539.3" width="0.55" height="1.05" fill="#ffff00"/>
<rect x="272.74" y="539.3" width="0.55" height="1.05" fill="#d4ff2a"/>
<rect x="273.24" y="539.3" width="0.55" height="1.05" fill="#a9ff55"/>
<rect x="273.74" y="539.3" width="0.26" height="1.05" fill="#7fff7f"/>
<rect x="266.70" y="540.3" width="1.05" height="1.05" fill="#7fff7f"/>
<rect x="267.70" y="540.3" width="0.55" height="1.05" fill="#00ffff"/>
<rect x="268.20" y="540.3" width="0.55" height="1.05" fill="#007fff"/>
<rect x="268.70" y="540.3" width="1.05" height="1.05" fill="#002aff"/>
<rect x="269.70" y="540.3" width="0.55" height="1.05" fill="#00aaff"/>
<rect x="270.20" y="540.3" width="0.55" height="1.05" fill="#7fff7f"/>
<rect x="270.70" y="540.3" width="0.55" height="1.05" fill="#ffd400"/>
<rect x="271.20" y="540.3" width="1.05" height="1.05" fill="#ff7f00"/>
<rect x="272.20" y="540.3" width="0.55" height="1.05" fill="#ffd400"/>
<rect x="272.70" y="540.3" width="0.55" height="1.05" fill="#d4ff2a"/>
<rect x="273.20" y="540.3" width="0.55" height="1.05" fill="#a9ff55"/>
<rect x="273.70" y="540.3" width="0.29" height="1.05" fill="#7fff7f"/>
<rect x="266.67" y="541.3" width="1.05" height="1.05" fill="#7fff7f"/>
<rect x="267.67" y="541.3" width="0.55" height="1.05" fill="#00ffff"/>
<rect x="268.17" y="541.3" width="0.55" height="1.05" fill="#007fff"/>
<rect x="268.67" y="541.3" width="0.55" height="1.05" fill="#0000ff"/>
<rect x="269.17" y="541.3" width="0.55" height="1.05" fill="#002aff"/>
<rect x="269.67" y="541.3" width="0.55" height="1.05" fill="#007fff"/>
<rect x="270.17" y="541.3" width="0.55" height="1.05" fill="#54ffaa"/>
<rect x="270.67" y="541.3" width="0.55" height="1.05" fill="#ffff00"/>
<rect x="271.17" y="541.3" width="1.05" height="1.05" fill="#ff7f00"/>
<rect x="272.17" y="541.3" width="0.55" height="1.05" fill="#ffd400"/>
<rect x="272.67" y="541.3" width="0.55" height="1.05" fill="#d4ff2a"/>
<rect x="273.17" y="541.3" width="0.83" height="1.05" fill="#a9ff55"/>
<rect x="266.64" y="542.3" width="1.05" height="1.05" fill="#7fff7f"/>
<rect x="267.64" y="542.3" width="0.55" height="1.05" fill="#00ffff"/>
<rect x="268.14" y="542.3" width="0.55" height="1.05" fill="#007fff"/>
<rect x="268.64" y="542.3" width="1.05" height="1.05" fill="#0000ff"/>
<rect x="269.64" y="542.3" width="0.55" height="1.05" fill="#007fff"/>
<rect x="270.14" y="542.3" width="0.55" height="1.05" fill="#54ffaa"/>
<rect x="270.64" y="542.3" width="0.55" height="1.05" fill="#ffff00"/>
<rect x="271.14" y="542.3" width="1.05" height="1.05" fill="#ff7f00"/>
<rect x="272.14" y="542.3" width="0.55" height="1.05" fill="#ffd400"/>
<rect x="272.64" y="542.3" width="0.55" height="1.05" fill="#d4ff2a"/>
<rect x="273.14" y="542.3" width="0.86" height="1.05" fill="#a9ff55"/>
<rect x="266.62" y="543.3" width="1.05" height="1.05" fill="#7fff7f"/>
<rect x="267.62" y="543.3" width="0.55" height="1.05" fill="#00ffff"/>
<rect x="268.12" y="543.3" width="0.55" height="1.05" fill="#007fff"/>
<rect x="268.62" y="543.3" width="1.05" height="1.05" fill="#0000ff"/>
<rect x="269.62" y="543.3" width="0.55" height="1.05" fill="#007fff"/>
<rect x="270.12" y="543.3" width="0.55" height="1.05" fill="#2affd4"/>
<rect x="270.62" y="543.3" width="0.55" height="1.05" fill="#ffff00"/>
<rect x="271.12" y="543.3" width="1.05" height="1.05" fill="#ff7f00"/>
<rect x="272.12" y="543.3" width="0.55" height="1.05" fill="#ffd400"/>
<rect x="272.62" y="543.3" width="0.55" height="1.05" fill="#d4ff2a"/>
<rect x="273.12" y="543.3" width="0.90" height="1.05" fill="#a9ff55"/>
<rect x="266.59" y="544.3" width="1.05" height="1.05" fill="#7fff7f"/>
<rect x="267.59" y="544.3" width="0.55" height="1.05" fill="#00ffff"/>
<rect x="268.09" y="544.3" width="0.55" height="1.05" fill="#007fff"/>
<rect x="268.59" y="544.3" width="1.05" height="1.05" fill="#0000ff"/>
<rect x="269.59" y="544.3" width="0.55" height="1.05" fill="#0055ff"/>
<rect x="270.09" y="544.3" width="0.55" height="1.05" fill="#2affd4"/>
<rect x="270.59" y="544.3" width="0.55" height="1.05" fill="#ffff00"/>
<rect x="271.09" y="544.3" width="0.55" height="1.05" fill="#ffa900"/>
<rect x="271.59" y="544.3" width="0.55" height="1.05" fill="#ff7f00"/>
<rect x="272.09" y="544.3" width="0.55" height="1.05" fill="#ffd400"/>
<rect x="272.59" y="544.3" width="0.55" height="1.05" fill="#d4ff2a"/>
<rect x="273.09" y="544.3" width="0.93" height="1.05" fill="#a9ff55"/>
<rect x="266.57" y="545.3" width="1.05" height="1.05" fill="#7fff7f"/>
<rect x="267.57" y="545.3" width="0.55" height="1.05" fill="#00ffff"/>
<rect x="268.07" y="545.3" width="0.55" height="1.05" fill="#007fff"/>
<rect x="268.57" y="545.3" width="1.05" height="1.05" fill="#0000d4"/>
<rect x="269.57" y="545.3" width="0.55" height="1.05" fill="#0055ff"/>
<rect x="270.07" y="545.3" width="0.55" height="1.05" fill="#2affd4"/>
<rect x="270.57" y="545.3" width="0.55" height="1.05" fill="#d4ff2a"/>
<rect x="271.07" y="545.3" width="0.55" height="1.05" fill="#ffa900"/>
<rect x="271.57" y="545.3" width="0.55" height="1.05" fill="#ff7f00"/>
<rect x="272.07" y="545.3" width="0.55" height="1.05" fill="#ffd400"/>
<rect x="272.57" y="545.3" width="0.55" height="1.05" fill="#d4ff2a"/>
<rect x="273.07" y="545.3" width="0.96" height="1.05" fill="#a9ff55"/>
<rect x="266.54" y="546.3" width="1.05" height="1.05" fill="#7fff7f"/>
<rect x="267.54" y="546.3" width="0.55" height="1.05" fill="#00ffff"/>
<rect x="268.04" y="546.3" width="0.55" height="1.05" fill="#007fff"/>
<rect x="268.54" y="546.3" width="1.05" height="1.05" fill="#0000d4"/>
<rect x="269.54" y="546.3" width="0.55" height="1.05" fill="#002aff"/>
<rect x="270.04" y="546.3" width="0.55" height="1.05" fill="#00ffff"/>
<rect x="270.54" y="546.3" width="0.55" height="1.05" fill="#d4ff2a"/>
<rect x="271.04" y="546.3" width="0.55" height="1.05" fill="#ffa900"/>
<rect x="271.54" y="546.3" width="0.55" height="1.05" fill="#ff7f00"/>
<rect x="272.04" y="546.3" width="0.55" height="1.05" fill="#ffd400"/>
<rect x="272.54" y="546.3" width="0.55" height="1.05" fill="#d4ff2a"/>
<rect x="273.04" y="546.3" width="0.98" height="1.05" fill="#a9ff55"/>
<rect x="266.52" y="547.3" width="1.05" height="1.05" fill="#7fff7f"/>
<rect x="267.52" y="547.3" width="0.55" height="1.05" fill="#00ffff"/>
<rect x="268.02" y="547.3" width="0.55" height="1.05" fill="#007fff"/>
<rect x="268.52" y="547.3" width="1.05" height="1.05" fill="#0000d4"/>
<rect x="269.52" y="547.3" width="0.55" height="1.05" fill="#002aff"/>
<rect x="270.02" y="547.3" width="0.55" height="1.05" fill="#00ffff"/>
<rect x="270.52" y="547.3" width="0.55" height="1.05" fill="#d4ff2a"/>
<rect x="271.02" y="547.3" width="0.55" height="1.05" fill="#ffa900"/>
<rect x="271.52" y="547.3" width="0.55" height="1.05" fill="#ff7f00"/>
<rect x="272.02" y="547.3" width="0.55" height="1.05" fill="#ffd400"/>
<rect x="272.52" y="547.3" width="0.55" height="1.05" fill="#d4ff2a"/>
<rect x="273.02" y="547.3" width="1.01" height="1.05" fill="#a9ff55"/>
<rect x="266.50" y="548.3" width="1.05" height="1.05" fill="#7fff7f"/>
<rect x="267.50" y="548.3" width="0.55" height="1.05" fill="#00ffff"/>
<rect x="268.00" y="548.3" width="0.55" height="1.05" fill="#007fff"/>
<rect x="268.50" y="548.3" width="1.05" height="1.05" fill="#0000d4"/>
<rect x="269.50" y="548.3" width="0.55" height="1.05" fill="#002aff"/>
<rect x="270.00" y="548.3" width="0.55" height="1.05" fill="#00d4ff"/>
<rect x="270.50" y="548.3" width="0.55" height="1.05" fill="#d4ff2a"/>
<rect x="271.00" y="548.3" width="0.55" height="1.05" fill="#ffa900"/>
<rect x="271.50" y="548.3" width="0.55" height="1.05" fill="#ff7f00"/>
<rect x="272.00" y="548.3" width="0.55" height="1.05" fill="#ffd400"/>
<rect x="272.50" y="548.3" width="0.55" height="1.05" fill="#d4ff2a"/>
<rect x="273.00" y="548.3" width="1.03" height="1.05" fill="#a9ff55"/>
<rect x="266.48" y="549.3" width="1.05" height="1.05" fill="#7fff7f"/>
<rect x="267.48" y="549.3" width="0.55" height="1.05" fill="#00ffff"/>
<rect x="267.98" y="549.3" width="0.55" height="1.05" fill="#0055ff"/>
<rect x="268.48" y="549.3" width="0.55" height="1.05" fill="#0000d4"/>
<rect x="268.98" y="549.3" width="0.55" height="1.05" fill="#0000aa"/>
<rect x="269.48" y="549.3" width="0.55" height="1.05" fill="#0000ff"/>
<rect x="269.98" y="549.3" width="0.55" height="1.05" fill="#00d4ff"/>
<rect x="270.48" y="549.3" width="0.55" height="1.05" fill="#a9ff55"/>
<rect x="270.98" y="549.3" width="0.55" height="1.05" fill="#ffa900"/>
<rect x="271.48" y="549.3" width="0.55" height="1.05" fill="#ff7f00"/>
<rect x="271.98" y="549.3" width="0.55" height="1.05" fill="#ffd400"/>
<rect x="272.48" y="549.3" width="0.55" height="1.05" fill="#d4ff2a"/>
<rect x="272.98" y="549.3" width="1.05" height="1.05" fill="#a9ff55"/>
<rect x="273.98" y="549.3" width="0.05" height="1.05" fill="#7fff7f"/>
<rect x="266.47" y="550.3" width="1.05" height="1.05" fill="#7fff7f"/>
<rect x="267.47" y="550.3" width="0.55" height="1.05" fill="#00ffff"/>
<rect x="267.97" y="550.3" width="0.55" height="1.05" fill="#0055ff"/>
<rect x="268.47" y="550.3" width="1.05" height="1.05" fill="#0000aa"/>
<rect x="269.47" y="550.3" width="0.55" height="1.05" fill="#0000ff"/>
<rect x="269.97" y="550.3" width="0.55" height="1.05" fill="#00d4ff"/>
<rect x="270.47" y="550.3" width="0.55" height="1.05" fill="#a9ff55"/>
<rect x="270.97" y="550.3" width="0.55" height="1.05" fill="#ffa900"/>
<rect x="271.47" y="550.3" width="0.55" height="1.05" fill="#ff7f00"/>
<rect x="271.97" y="550.3" width="0.55" height="1.05" fill="#ffd400"/>
<rect x="272.47" y="550.3" width="0.55" height="1.05" fill="#d4ff2a"/>
<rect x="272.97" y="550.3" width="1.05" height="1.05" fill="#a9ff55"/>
<rect x="273.97" y="550.3" width="0.07" height="1.05" fill="#7fff7f"/>
<rect x="266.45" y="551.3" width="0.55" height="1.05" fill="#a9ff55"/>
<rect x="266.95" y="551.3" width="0.55" height="1.05" fill="#7fff7f"/>
<rect x="267.45" y="551.3" width="0.55" height="1.05" fill="#00ffff"/>
<rect x="267.95" y="551.3" width="0.55" height="1.05" fill="#0055ff"/>
<rect x="268.45" y="551.3" width="1.05" height="1.05" fill="#0000aa"/>
<rect x="269.45" y="551.3" width="0.55" height="1.05" fill="#0000ff"/>
<rect x="269.95" y="551.3" width="0.55" height="1.05" fill="#00d4ff"/>
<rect x="270.45" y="551.3" width="0.55" height="1.05" fill="#a9ff55"/>
<rect x="270.95" y="551.3" width="0.55" height="1.05" fill="#ffa900"/>
<rect x="271.45" y="551.3" width="0.55" height="1.05" fill="#ff7f00"/>
<rect x="271.95" y="551.3" width="0.55" height="1.05" fill="#ffd400"/>
<rect x="272.45" y="551.3" width="0.55" height="1.05" fill="#d4ff2a"/>
<rect x="272.95" y="551.3" width="1.05" height="1.05" fill="#a9ff55"/>
<rect x="273.95" y="551.3" width="0.09" height="1.05" fill="#7fff7f"/>
<rect x="266.44" y="552.3" width="0.55" height="1.05" fill="#a9ff55"/>
<rect x="266.94" y="552.3" width="0.55" height="1.05" fill="#7fff7f"/>
<rect x="267.44" y="552.3" width="0.55" height="1.05" fill="#00ffff"/>
<rect x="267.94" y="552.3" width="0.55" height="1.05" fill="#0055ff"/>
<rect x="268.44" y="552.3" width="1.05" height="1.05" fill="#0000aa"/>
<rect x="269.44" y="552.3" width="0.55" height="1.05" fill="#0000ff"/>
<rect x="269.94" y="552.3" width="0.55" height="1.05" fill="#00aaff"/>
<rect x="270.44" y="552.3" width="0.55" height="1.05" fill="#a9ff55"/>
<rect x="270.94" y="552.3" width="0.55" height="1.05" fill="#ffa900"/>
<rect x="271.44" y="552.3" width="0.55" height="1.05" fill="#ff7f00"/>
<rect x="271.94" y="552.3" width="0.55" height="1.05" fill="#ffd400"/>
<rect x="272.44" y="552.3" width="0.55" height="1.05" fill="#d4ff2a"/>
<rect x="272.94" y="552.3" width="1.05" height="1.05" fill="#a9ff55"/>
<rect x="273.94" y="552.3" width="0.10" height="1.05" fill="#7fff7f"/>
<rect x="266.43" y="553.3" width="0.55" height="1.05" fill="#a9ff55"/>
<rect x="266.93" y="553.3" width="0.55" height="1.05" fill="#7fff7f"/>
<rect x="267.43" y="553.3" width="0.55" height="1.05" fill="#00ffff"/>
<rect x="267.93" y="553.3" width="0.55" height="1.05" fill="#0055ff"/>
<rect x="268.43" y="553.3" width="1.05" height="1.05" fill="#0000aa"/>
<rect x="269.43" y="553.3" width="0.55" height="1.05" fill="#0000d4"/>
<rect x="269.93" y="553.3" width="0.55" height="1.05" fill="#00aaff"/>
<rect x="270.43" y="553.3" width="0.55" height="1.05" fill="#a9ff55"/>
<rect x="270.93" y="553.3" width="0.55" height="1.05" fill="#ffa900"/>
<rect x="271.43" y="553.3" width="0.55" height="1.05" fill="#ff7f00"/>
<rect x="271.93" y="553.3" width="0.55" height="1.05" fill="#ffd400"/>
<rect x="272.43" y="553.3" width="0.55" height="1.05" fill="#ffff00"/>
<rect x="272.93" y="553.3" width="1.05" height="1.05" fill="#a9ff55"/>
<rect x="273.93" y="553.3" width="0.12" height="1.05" fill="#7fff7f"/>
<rect x="266.42" y="554.3" width="0.55" height="1.05" fill="#a9ff55"/>
<rect x="266.92" y="554.3" width="0.55" height="1.05" fill="#7fff7f"/>
<rect x="267.42" y="554.3" width="0.55" height="1.05" fill="#00ffff"/>
<rect x="267.92" y="554.3" width="0.55" height="1.05" fill="#0055ff"/>
<rect x="268.42" y="554.3" width="0.55" height="1.05" fill="#0000aa"/>
<rect x="268.92" y="554.3" width="0.55" height="1.05" fill="#00007f"/>
<rect x="269.42" y="554.3" width="0.55" height="1.05" fill="#0000d4"/>
<rect x="269.92" y="554.3" width="0.55" height="1.05" fill="#00aaff"/>
<rect x="270.42" y="554.3" width="0.55" height="1.05" fill="#a9ff55"/>
<rect x="270.92" y="554.3" width="0.55" height="1.05" fill="#ffa900"/>
<rect x="271.42" y="554.3" width="0.55" height="1.05" fill="#ff7f00"/>
<rect x="271.92" y="554.3" width="0.55" height="1.05" fill="#ffd400"/>
<rect x="272.42" y="554.3" width="0.55" height="1.05" fill="#ffff00"/>
<rect x="272.92" y="554.3" width="1.05" height="1.05" fill="#a9ff55"/>
<rect x="273.92" y="554.3" width="0.13" height="1.05" fill="#7fff7f"/>
<rect x="266.41" y="555.3" width="0.55" height="1.05" fill="#a9ff55"/>
<rect x="266.91" y="555.3" width="0.55" height="1.05" fill="#7fff7f"/>
<rect x="267.41" y="555.3" width="0.55" height="1.05" fill="#00ffff"/>
<rect x="267.91" y="555.3" width="0.55" height="1.05" fill="#0055ff"/>
<rect x="268.41" y="555.3" width="0.55" height="1.05" fill="#0000aa"/>
<rect x="268.91" y="555.3" width="0.55" height="1.05" fill="#00007f"/>
<rect x="269.41" y="555.3" width="0.55" height="1.05" fill="#0000d4"/>
<rect x="269.91" y="555.3" width="0.55" height="1.05" fill="#00aaff"/>
<rect x="270.41" y="555.3" width="0.55" height="1.05" fill="#a9ff55"/>
<rect x="270.91" y="555.3" width="0.55" height="1.05" fill="#ffa900"/>
<rect x="271.41" y="555.3" width="0.55" height="1.05" fill="#ff7f00"/>
<rect x="271.91" y="555.3" width="0.55" height="1.05" fill="#ffd400"/>
<rect x="272.41" y="555.3" width="0.55" height="1.05" fill="#ffff00"/>
<rect x="272.91" y="555.3" width="1.05" height="1.05" fill="#a9ff55"/>
<rect x="273.91" y="555.3" width="0.14" height="1.05" fill="#7fff7f"/>
<rect x="266.41" y="556.3" width="0.55" height="1.05" fill="#a9ff55"/>
<rect x="266.91" y="556.3" width="0.55" height="1.05" fill="#7fff7f"/>
<rect x="267.41" y="556.3" width="0.55" height="1.05" fill="#00ffff"/>
<rect x="267.91" y="556.3" width="0.55" height="1.05" fill="#0055ff"/>
<rect x="268.41" y="556.3" width="0.55" height="1.05" fill="#0000aa"/>
<rect x="268.91" y="556.3" width="0.55" height="1.05" fill="#00007f"/>
<rect x="269.41" y="556.3" width="0.55" height="1.05" fill="#0000d4"/>
<rect x="269.91" y="556.3" width="0.55" height="1.05" fill="#00aaff"/>
<rect x="270.41" y="556.3" width="0.55" height="1.05" fill="#a9ff55"/>
<rect x="270.91" y="556.3" width="0.55" height="1.05" fill="#ffa900"/>
<rect x="271.41" y="556.3" width="0.55" height="1.05" fill="#ff7f00"/>
<rect x="271.91" y="556.3" width="0.55" height="1.05" fill="#ffd400"/>
<rect x="272.41" y="556.3" width="0.55" height="1.05" fill="#ffff00"/>
<rect x="272.91" y="556.3" width="1.05" height="1.05" fill="#a9ff55"/>
<rect x="273.91" y="556.3" width="0.14" height="1.05" fill="#7fff7f"/>
<rect x="266.40" y="557.3" width="0.55" height="1.05" fill="#a9ff55"/>
<rect x="266.90" y="557.3" width="0.55" height="1.05" fill="#7fff7f"/>
<rect x="267.40" y="557.3" width="0.55" height="1.05" fill="#00ffff"/>
<rect x="267.90" y="557.3" width="0.55" height="1.05" fill="#0055ff"/>
<rect x="268.40" y="557.3" width="0.55" height="1.05" fill="#0000aa"/>
<rect x="268.90" y="557.3" width="0.55" height="1.05" fill="#00007f"/>
<rect x="269.40" y="557.3" width="0.55" height="1.05" fill="#0000d4"/>
<rect x="269.90" y="557.3" width="0.55" height="1.05" fill="#00aaff"/>
<rect x="270.40" y="557.3" width="0.55" height="1.05" fill="#a9ff55"/>
<rect x="270.90" y="557.3" width="0.55" height="1.05" fill="#ffa900"/>
<rect x="271.40" y="557.3" width="0.55" height="1.05" fill="#ff7f00"/>
<rect x="271.90" y="557.3" width="0.55" height="1.05" fill="#ffd400"/>
<rect x="272.40" y="557.3" width="0.55" height="1.05" fill="#ffff00"/>
<rect x="272.90" y="557.3" width="1.05" height="1.05" fill="#a9ff55"/>
<rect x="273.90" y="557.3" width="0.15" height="1.05" fill="#7fff7f"/>
<rect x="266.40" y="558.3" width="0.55" height="1.05" fill="#a9ff55"/>
<rect x="266.90" y="558.3" width="0.55" height="1.05" fill="#7fff7f"/>
<rect x="267.40" y="558.3" width="0.55" height="1.05" fill="#00ffff"/>
<rect x="267.90" y="558.3" width="0.55" height="1.05" fill="#0055ff"/>
<rect x="268.40" y="558.3" width="0.55" height="1.05" fill="#0000aa"/>
<rect x="268.90" y="558.3" width="0.55" height="1.05" fill="#00007f"/>
<rect x="269.40" y="558.3" width="0.55" height="1.05" fill="#0000d4"/>
<rect x="269.90" y="558.3" width="0.55" height="1.05" fill="#00aaff"/>
<rect x="270.40" y="558.3" width="0.55" height="1.05" fill="#a9ff55"/>
<rect x="270.90" y="558.3" width="0.55" height="1.05" fill="#ffa900"/>
<rect x="271.40" y="558.3" width="0.55" height="1.05" fill="#ff7f00"/>
<rect x="271.90" y="558.3" width="0.55" height="1.05" fill="#ffd400"/>
<rect x="272.40" y="558.3" width="0.55" height="1.05" fill="#ffff00"/>
<rect x="272.90" y="558.3" width="1.05" height="1.05" fill="#a9ff55"/>
<rect x="273.90" y="558.3" width="0.15" height="1.05" fill="#7fff7f"/>
<rect x="266.40" y="559.3" width="0.55" height="1.05" fill="#a9ff55"/>
<rect x="266.90" y="559.3" width="0.55" height="1.05" fill="#7fff7f"/>
<rect x="267.40" y="559.3" width="0.55" height="1.05" fill="#00ffff"/>
<rect x="267.90" y="559.3" width="0.55" height="1.05" fill="#0055ff"/>
<rect x="268.40" y="559.3" width="0.55" height="1.05" fill="#0000aa"/>
<rect x="268.90" y="559.3" width="0.55" height="1.05" fill="#00007f"/>
<rect x="269.40" y="559.3" width="0.55" height="1.05" fill="#0000d4"/>
<rect x="269.90" y="559.3" width="0.55" height="1.05" fill="#00aaff"/>
<rect x="270.40" y="559.3" width="0.55" height="1.05" fill="#a9ff55"/>
<rect x="270.90" y="559.3" width="0.55" height="1.05" fill="#ffa900"/>
<rect x="271.40" y="559.3" width="0.55" height="1.05" fill="#ff7f00"/>
<rect x="271.90" y="559.3" width="0.55" height="1.05" fill="#ffd400"/>
<rect x="272.40" y="559.3" width="0.55" height="1.05" fill="#ffff00"/>
<rect x="272.90" y="559.3" width="1.05" height="1.05" fill="#a9ff55"/>
<rect x="273.90" y="559.3" width="0.15" height="1.05" fill="#7fff7f"/>
<rect x="266.40" y="560.3" width="0.55" height="1.05" fill="#a9ff55"/>
<rect x="266.90" y="560.3" width="0.55" height="1.05" fill="#7fff7f"/>
<rect x="267.40" y="560.3" width="0.55" height="1.05" fill="#00ffff"/>
<rect x="267.90" y="560.3" width="0.55" height="1.05" fill="#0055ff"/>
<rect x="268.40" y="560.3" width="0.55" height="1.05" fill="#0000aa"/>
<rect x="268.90" y="560.3" width="0.55" height="1.05" fill="#00007f"/>
<rect x="269.40" y="560.3" width="0.55" height="1.05" fill="#0000d4"/>
<rect x="269.90" y="560.3" width="0.55" height="1.05" fill="#00aaff"/>
<rect x="270.40" y="560.3" width="0.55" height="1.05" fill="#a9ff55"/>
<rect x="270.90" y="560.3" width="0.55" height="1.05" fill="#ffa900"/>
<rect x="271.40" y="560.3" width="0.55" height="1.05" fill="#ff7f00"/>
<rect x="271.90" y="560.3" width="0.55" height="1.05" fill="#ffd400"/>
<rect x="272.40" y="560.3" width="0.55" height="1.05" fill="#ffff00"/>
<rect x="272.90" y="560.3" width="1.05" height="1.05" fill="#a9ff55"/>
<rect x="273.90" y="560.3" width="0.15" height="1.05" fill="#7fff7f"/>
<rect x="266.41" y="561.3" width="0.55" height="1.05" fill="#a9ff55"/>
<rect x="266.91" y="561.3" width="0.55" height="1.05" fill="#7fff7f"/>
<rect x="267.41" y="561.3" width="0.55" height="1.05" fill="#00ffff"/>
<rect x="267.91" y="561.3" width="0.55" height="1.05" fill="#0055ff"/>
<rect x="268.41" y="561.3" width="0.55" height="1.05" fill="#0000aa"/>
<rect x="268.91" y="561.3" width="0.55" height="1.05" fill="#00007f"/>
<rect x="269.41" y="561.3" width="0.55" height="1.05" fill="#0000d4"/>
<rect x="269.91" y="561.3" width="0.55" height="1.05" fill="#00aaff"/>
<rect x="270.41" y="561.3" width="0.55" height="1.05" fill="#a9ff55"/>
<rect x="270.91" y="561.3" width="0.55" height="1.05" fill="#ffa900"/>
<rect x="271.41" y="561.3" width="0.55" height="1.05" fill="#ff7f00"/>
<rect x="271.91" y="561.3" width="0.55" height="1.05" fill="#ffd400"/>
<rect x="272.41" y="561.3" width="0.55" height="1.05" fill="#ffff00"/>
<rect x="272.91" y="561.3" width="1.05" height="1.05" fill="#a9ff55"/>
<rect x="273.91" y="561.3" width="0.14" height="1.05" fill="#7fff7f"/>
<rect x="266.41" y="562.3" width="0.55" height="1.05" fill="#a9ff55"/>
<rect x="266.91" y="562.3" width="0.55" height="1.05" fill="#7fff7f"/>
<rect x="267.41" y="562.3" width="0.55" height="1.05" fill="#00ffff"/>
<rect x="267.91" y="562.3" width="0.55" height="1.05" fill="#0055ff"/>
<rect x="268.41" y="562.3" width="0.55" height="1.05" fill="#0000aa"/>
<rect x="268.91" y="562.3" width="0.55" height="1.05" fill="#00007f"/>
<rect x="269.41" y="562.3" width="0.55" height="1.05" fill="#0000d4"/>
<rect x="269.91" y="562.3" width="0.55" height="1.05" fill="#00aaff"/>
<rect x="270.41" y="562.3" width="0.55" height="1.05" fill="#a9ff55"/>
<rect x="270.91" y="562.3" width="0.55" height="1.05" fill="#ffa900"/>
<rect x="271.41" y="562.3" width="0.55" height="1.05" fill="#ff7f00"/>
<rect x="271.91" y="562.3" width="0.55" height="1.05" fill="#ffd400"/>
<rect x="272.41" y="562.3" width="0.55" height="1.05" fill="#ffff00"/>
<rect x="272.91" y="562.3" width="1.05" height="1.05" fill="#a9ff55"/>
<rect x="273.91" y="562.3" width="0.14" height="1.05" fill="#7fff7f"/>
<rect x="266.42" y="563.3" width="0.55" height="1.05" fill="#a9ff55"/>
<rect x="266.92" y="563.3" width="0.55" height="1.05" fill="#7fff7f"/>
<rect x="267.42" y="563.3" width="0.55" height="1.05" fill="#00ffff"/>
<rect x="267.92" y="563.3" width="0.55" height="1.05" fill="#0055ff"/>
<rect x="268.42" y="563.3" width="0.55" height="1.05" fill="#0000aa"/>
<rect x="268.92" y="563.3" width="0.55" height="1.05" fill="#00007f"/>
<rect x="269.42" y="563.3" width="0.55" height="1.05" fill="#0000d4"/>
<rect x="269.92" y="563.3" width="0.55" height="1.05" fill="#00aaff"/>
<rect x="270.42" y="563.3" width="0.55" height="1.05" fill="#a9ff55"/>
<rect x="270.92" y="563.3" width="0.55" height="1.05" fill="#ffa900"/>
<rect x="271.42" y="563.3" width="0.55" height="1.05" fill="#ff7f00"/>
<rect x="271.92" y="563.3" width="0.55" height="1.05" fill="#ffd400"/>
<rect x="272.42" y="563.3" width="0.55" height="1.05" fill="#ffff00"/>
<rect x="272.92" y="563.3" width="1.05" height="1.05" fill="#a9ff55"/>
<rect x="273.92" y="563.3" width="0.13" height="1.05" fill="#7fff7f"/>
<rect x="266.43" y="564.3" width="0.55" height="1.05" fill="#a9ff55"/>
<rect x="266.93" y="564.3" width="0.55" height="1.05" fill="#7fff7f"/>
<rect x="267.43" y="564.3" width="0.55" height="1.05" fill="#00ffff"/>
<rect x="267.93" y="564.3" width="0.55" height="1.05" fill="#0055ff"/>
<rect x="268.43" y="564.3" width="1.05" height="1.05" fill="#0000aa"/>
<rect x="269.43" y="564.3" width="0.55" height="1.05" fill="#0000d4"/>
<rect x="269.93" y="564.3" width="0.55" height="1.05" fill="#00aaff"/>
<rect x="270.43" y="564.3" width="0.55" height="1.05" fill="#a9ff55"/>
<rect x="270.93" y="564.3" width="0.55" height="1.05" fill="#ffa900"/>
<rect x="271.43" y="564.3" width="0.55" height="1.05" fill="#ff7f00"/>
<rect x="271.93" y="564.3" width="0.55" height="1.05" fill="#ffd400"/>
<rect x="272.43" y="564.3" width="0.55" height="1.05" fill="#ffff00"/>
<rect x="272.93" y="564.3" width="1.05" height="1.05" fill="#a9ff55"/>
<rect x="273.93" y="564.3" width="0.12" height="1.05" fill="#7fff7f"/>
<rect x="266.44" y="565.3" width="0.55" height="1.05" fill="#a9ff55"/>
<rect x="266.94" y="565.3" width="0.55" height="1.05" fill="#7fff7f"/>
<rect x="267.44" y="565.3" width="0.55" height="1.05" fill="#00ffff"/>
<rect x="267.94" y="565.3" width="0.55" height="1.05" fill="#0055ff"/>
<rect x="268.44" y="565.3" width="1.05" height="1.05" fill="#0000aa"/>
<rect x="269.44" y="565.3" width="0.55" height="1.05" fill="#0000ff"/>
<rect x="269.94" y="565.3" width="0.55" height="1.05" fill="#00aaff"/>
<rect x="270.44" y="565.3" width="0.55" height="1.05" fill="#a9ff55"/>
<rect x="270.94" y="565.3" width="0.55" height="1.05" fill="#ffa900"/>
<rect x="271.44" y="565.3" width="0.55" height="1.05" fill="#ff7f00"/>
<rect x="271.94" y="565.3" width="0.55" height="1.05" fill="#ffd400"/>
<rect x="272.44" y="565.3" width="0.55" height="1.05" fill="#d4ff2a"/>
<rect x="272.94" y="565.3" width="1.05" height="1.05" fill="#a9ff55"/>
<rect x="273.94" y="565.3" width="0.11" height="1.05" fill="#7fff7f"/>
<rect x="266.45" y="566.3" width="0.55" height="1.05" fill="#a9ff55"/>
<rect x="266.95" y="566.3" width="0.55" height="1.05" fill="#7fff7f"/>
<rect x="267.45" y="566.3" width="0.55" height="1.05" fill="#00ffff"/>
<rect x="267.95" y="566.3" width="0.55" height="1.05" fill="#0055ff"/>
<rect x="268.45" y="566.3" width="1.05" height="1.05" fill="#0000aa"/>
<rect x="269.45" y="566.3" width="0.55" height="1.05" fill="#0000ff"/>
<rect x="269.95" y="566.3" width="0.55" height="1.05" fill="#00d4ff"/>
<rect x="270.45" y="566.3" width="0.55" height="1.05" fill="#a9ff55"/>
<rect x="270.95" y="566.3" width="0.55" height="1.05" fill="#ffa900"/>
<rect x="271.45" y="566.3" width="0.55" height="1.05" fill="#ff7f00"/>
<rect x="271.95" y="566.3" width="0.55" height="1.05" fill="#ffd400"/>
<rect x="272.45" y="566.3" width="0.55" height="1.05" fill="#d4ff2a"/>
<rect x="272.95" y="566.3" width="1.05" height="1.05" fill="#a9ff55"/>
<rect x="273.95" y="566.3" width="0.09" height="1.05" fill="#7fff7f"/>
<rect x="266.46" y="567.3" width="1.05" height="1.05" fill="#7fff7f"/>
<rect x="267.46" y="567.3" width="0.55" height="1.05" fill="#00ffff"/>
<rect x="267.96" y="567.3" width="0.55" height="1.05" fill="#0055ff"/>
<rect x="268.46" y="567.3" width="1.05" height="1.05" fill="#0000aa"/>
<rect x="269.46" y="567.3" width="0.55" height="1.05" fill="#0000ff"/>
<rect x="269.96" y="567.3" width="0.55" height="1.05" fill="#00d4ff"/>
<rect x="270.46" y="567.3" width="0.55" height="1.05" fill="#a9ff55"/>
<rect x="270.96" y="567.3" width="0.55" height="1.05" fill="#ffa900"/>
<rect x="271.46" y="567.3" width="0.55" height="1.05" fill="#ff7f00"/>
<rect x="271.96" y="567.3" width="0.55" height="1.05" fill="#ffd400"/>
<rect x="272.46" y="567.3" width="0.55" height="1.05" fill="#d4ff2a"/>
<rect x="272.96" y="567.3" width="1.05" height="1.05" fill="#a9ff55"/>
<rect x="273.96" y="567.3" width="0.07" height="1.05" fill="#7fff7f"/>
<rect x="266.48" y="568.3" width="1.05" height="1.05" fill="#7fff7f"/>
<rect x="267.48" y="568.3" width="0.55" height="1.05" fill="#00ffff"/>
<rect x="267.98" y="568.3" width="0.55" height="1.05" fill="#0055ff"/>
<rect x="268.48" y="568.3" width="0.55" height="1.05" fill="#0000d4"/>
<rect x="268.98" y="568.3" width="0.55" height="1.05" fill="#0000aa"/>
<rect x="269.48" y="568.3" width="0.55" height="1.05" fill="#0000ff"/>
<rect x="269.98" y="568.3" width="0.55" height="1.05" fill="#00d4ff"/>
<rect x="270.48" y="568.3" width="0.55" height="1.05" fill="#a9ff55"/>
<rect x="270.98" y="568.3" width="0.55" height="1.05" fill="#ffa900"/>
<rect x="271.48" y="568.3" width="0.55" height="1.05" fill="#ff7f00"/>
<rect x="271.98" y="568.3" width="0.55" height="1.05" fill="#ffd400"/>
<rect x="272.48" y="568.3" width="0.55" height="1.05" fill="#d4ff2a"/>
<rect x="272.98" y="568.3" width="1.05" height="1.05" fill="#a9ff55"/>
<rect x="273.98" y="568.3" width="0.06" height="1.05" fill="#7fff7f"/>
<rect x="266.50" y="569.3" width="1.05" height="1.05" fill="#7fff7f"/>
<rect x="267.50" y="569.3" width="0.55" height="1.05" fill="#00ffff"/>
<rect x="268.00" y="569.3" width="0.55" height="1.05" fill="#007fff"/>
<rect x="268.50" y="569.3" width="1.05" height="1.05" fill="#0000d4"/>
<rect x="269.50" y="569.3" width="0.55" height="1.05" fill="#002aff"/>
<rect x="270.00" y="569.3" width="0.55" height="1.05" fill="#00d4ff"/>
<rect x="270.50" y="569.3" width="0.55" height="1.05" fill="#d4ff2a"/>
<rect x="271.00" y="569.3" width="0.55" height="1.05" fill="#ffa900"/>
<rect x="271.50" y="569.3" width="0.55" height="1.05" fill="#ff7f00"/>
<rect x="272.00" y="569.3" width="0.55" height="1.05" fill="#ffd400"/>
<rect x="272.50" y="569.3" width="0.55" height="1.05" fill="#d4ff2a"/>
<rect x="273.00" y="569.3" width="1.04" height="1.05" fill="#a9ff55"/>
<rect x="266.52" y="570.3" width="1.05" height="1.05" fill="#7fff7f"/>
<rect x="267.52" y="570.3" width="0.55" height="1.05" fill="#00ffff"/>
<rect x="268.02" y="570.3" width="0.55" height="1.05" fill="#007fff"/>
<rect x="268.52" y="570.3" width="1.05" height="1.05" fill="#0000d4"/>
<rect x="269.52" y="570.3" width="0.55" height="1.05" fill="#002aff"/>
<rect x="270.02" y="570.3" width="0.55" height="1.05" fill="#00ffff"/>
<rect x="270.52" y="570.3" width="0.55" height="1.05" fill="#d4ff2a"/>
<rect x="271.02" y="570.3" width="0.55" height="1.05" fill="#ffa900"/>
<rect x="271.52" y="570.3" width="0.55" height="1.05" fill="#ff7f00"/>
<rect x="272.02" y="570.3" width="0.55" height="1.05" fill="#ffd400"/>
<rect x="272.52" y="570.3" width="0.55" height="1.05" fill="#d4ff2a"/>
<rect x="273.02" y="570.3" width="1.01" height="1.05" fill="#a9ff55"/>
<rect x="266.54" y="571.3" width="1.05" height="1.05" fill="#7fff7f"/>
<rect x="267.54" y="571.3" width="0.55" height="1.05" fill="#00ffff"/>
<rect x="268.04" y="571.3" width="0.55" height="1.05" fill="#007fff"/>
<rect x="268.54" y="571.3" width="1.05" height="1.05" fill="#0000d4"/>
<rect x="269.54" y="571.3" width="0.55" height="1.05" fill="#002aff"/>
<rect x="270.04" y="571.3" width="0.55" height="1.05" fill="#00ffff"/>
<rect x="270.54" y="571.3" width="0.55" height="1.05" fill="#d4ff2a"/>
<rect x="271.04" y="571.3" width="0.55" height="1.05" fill="#ffa900"/>
<rect x="271.54" y="571.3" width="0.55" height="1.05" fill="#ff7f00"/>
<rect x="272.04" y="571.3" width="0.55" height="1.05" fill="#ffd400"/>
<rect x="272.54" y="571.3" width="0.55" height="1.05" fill="#d4ff2a"/>
<rect x="273.04" y="571.3" width="0.99" height="1.05" fill="#a9ff55"/>
<rect x="266.56" y="572.3" width="1.05" height="1.05" fill="#7fff7f"/>
<rect x="267.56" y="572.3" width="0.55" height="1.05" fill="#00ffff"/>
<rect x="268.06" y="572.3" width="0.55" height="1.05" fill="#007fff"/>
<rect x="268.56" y="572.3" width="1.05" height="1.05" fill="#0000d4"/>
<rect x="269.56" y="572.3" width="0.55" height="1.05" fill="#0055ff"/>
<rect x="270.06" y="572.3" width="0.55" height="1.05" fill="#00ffff"/>
<rect x="270.56" y="572.3" width="0.55" height="1.05" fill="#d4ff2a"/>
<rect x="271.06" y="572.3" width="0.55" height="1.05" fill="#ffa900"/>
<rect x="271.56" y="572.3" width="0.55" height="1.05" fill="#ff7f00"/>
<rect x="272.06" y="572.3" width="0.55" height="1.05" fill="#ffd400"/>
<rect x="272.56" y="572.3" width="0.55" height="1.05" fill="#d4ff2a"/>
<rect x="273.06" y="572.3" width="0.96" height="1.05" fill="#a9ff55"/>
<rect x="266.59" y="573.3" width="1.05" height="1.05" fill="#7fff7f"/>
<rect x="267.59" y="573.3" width="0.55" height="1.05" fill="#00ffff"/>
<rect x="268.09" y="573.3" width="0.55" height="1.05" fill="#007fff"/>
<rect x="268.59" y="573.3" width="1.05" height="1.05" fill="#0000ff"/>
<rect x="269.59" y="573.3" width="0.55" height="1.05" fill="#0055ff"/>
<rect x="270.09" y="573.3" width="0.55" height="1.05" fill="#2affd4"/>
<rect x="270.59" y="573.3" width="0.55" height="1.05" fill="#ffff00"/>
<rect x="271.09" y="573.3" width="0.55" height="1.05" fill="#ffa900"/>
<rect x="271.59" y="573.3" width="0.55" height="1.05" fill="#ff7f00"/>
<rect x="272.09" y="573.3" width="0.55" height="1.05" fill="#ffd400"/>
<rect x="272.59" y="573.3" width="0.55" height="1.05" fill="#d4ff2a"/>
<rect x="273.09" y="573.3" width="0.93" height="1.05" fill="#a9ff55"/>
<rect x="266.61" y="574.3" width="1.05" height="1.05" fill="#7fff7f"/>
<rect x="267.61" y="574.3" width="0.55" height="1.05" fill="#00ffff"/>
<rect x="268.11" y="574.3" width="0.55" height="1.05" fill="#007fff"/>
<rect x="268.61" y="574.3" width="1.05" height="1.05" fill="#0000ff"/>
<rect x="269.61" y="574.3" width="0.55" height="1.05" fill="#0055ff"/>
<rect x="270.11" y="574.3" width="0.55" height="1.05" fill="#2affd4"/>
<rect x="270.61" y="574.3" width="0.55" height="1.05" fill="#ffff00"/>
<rect x="271.11" y="574.3" width="1.05" height="1.05" fill="#ff7f00"/>
<rect x="272.11" y="574.3" width="0.55" height="1.05" fill="#ffd400"/>
<rect x="272.61" y="574.3" width="0.55" height="1.05" fill="#d4ff2a"/>
<rect x="273.11" y="574.3" width="0.90" height="1.05" fill="#a9ff55"/>
<rect x="266.64" y="575.3" width="1.05" height="1.05" fill="#7fff7f"/>
<rect x="267.64" y="575.3" width="0.55" height="1.05" fill="#00ffff"/>
<rect x="268.14" y="575.3" width="0.55" height="1.05" fill="#007fff"/>
<rect x="268.64" y="575.3" width="1.05" height="1.05" fill="#0000ff"/>
<rect x="269.64" y="575.3" width="0.55" height="1.05" fill="#007fff"/>
<rect x="270.14" y="575.3" width="0.55" height="1.05" fill="#54ffaa"/>
<rect x="270.64" y="575.3" width="0.55" height="1.05" fill="#ffff00"/>
<rect x="271.14" y="575.3" width="1.05" height="1.05" fill="#ff7f00"/>
<rect x="272.14" y="575.3" width="0.55" height="1.05" fill="#ffd400"/>
<rect x="272.64" y="575.3" width="0.55" height="1.05" fill="#d4ff2a"/>
<rect x="273.14" y="575.3" width="0.87" height="1.05" fill="#a9ff55"/>
<rect x="266.67" y="576.3" width="1.05" height="1.05" fill="#7fff7f"/>
<rect x="267.67" y="576.3" width="0.55" height="1.05" fill="#00ffff"/>
<rect x="268.17" y="576.3" width="0.55" height="1.05" fill="#007fff"/>
<rect x="268.67" y="576.3" width="0.55" height="1.05" fill="#0000ff"/>
<rect x="269.17" y="576.3" width="0.55" height="1.05" fill="#002aff"/>
<rect x="269.67" y="576.3" width="0.55" height="1.05" fill="#007fff"/>
<rect x="270.17" y="576.3" width="0.55" height="1.05" fill="#54ffaa"/>
<rect x="270.67" y="576.3" width="0.55" height="1.05" fill="#ffff00"/>
<rect x="271.17" y="576.3" width="1.05" height="1.05" fill="#ff7f00"/>
<rect x="272.17" y="576.3" width="0.55" height="1.05" fill="#ffd400"/>
<rect x="272.67" y="576.3" width="0.55" height="1.05" fill="#d4ff2a"/>
<rect x="273.17" y="576.3" width="0.84" height="1.05" fill="#a9ff55"/>
<rect x="266.70" y="577.3" width="1.05" height="1.05" fill="#7fff7f"/>
<rect x="267.70" y="577.3" width="0.55" height="1.05" fill="#00ffff"/>
<rect x="268.20" y="577.3" width="0.55" height="1.05" fill="#007fff"/>
<rect x="268.70" y="577.3" width="1.05" height="1.05" fill="#002aff"/>
<rect x="269.70" y="577.3" width="0.55" height="1.05" fill="#00aaff"/>
<rect x="270.20" y="577.3" width="0.55" height="1.05" fill="#54ffaa"/>
<rect x="270.70" y="577.3" width="0.55" height="1.05" fill="#ffd400"/>
<rect x="271.20" y="577.3" width="1.05" height="1.05" fill="#ff7f00"/>
<rect x="272.20" y="577.3" width="0.55" height="1.05" fill="#ffd400"/>
<rect x="272.70" y="577.3" width="0.55" height="1.05" fill="#d4ff2a"/>
<rect x="273.20" y="577.3" width="0.80" height="1.05" fill="#a9ff55"/>
<rect x="266.73" y="578.3" width="1.05" height="1.05" fill="#7fff7f"/>
<rect x="267.73" y="578.3" width="0.55" height="1.05" fill="#00ffff"/>
<rect x="268.23" y="578.3" width="0.55" height="1.05" fill="#007fff"/>
<rect x="268.73" y="578.3" width="1.05" height="1.05" fill="#002aff"/>
<rect x="269.73" y="578.3" width="0.55" height="1.05" fill="#00aaff"/>
<rect x="270.23" y="578.3" width="0.55" height="1.05" fill="#7fff7f"/>
<rect x="270.73" y="578.3" width="0.55" height="1.05" fill="#ffd400"/>
<rect x="271.23" y="578.3" width="0.55" height="1.05" fill="#ff7f00"/>
<rect x="271.73" y="578.3" width="0.55" height="1.05" fill="#ffa900"/>
<rect x="272.23" y="578.3" width="0.55" height="1.05" fill="#ffff00"/>
<rect x="272.73" y="578.3" width="0.55" height="1.05" fill="#d4ff2a"/>
<rect x="273.23" y="578.3" width="0.55" height="1.05" fill="#a9ff55"/>
<rect x="273.73" y="578.3" width="0.26" height="1.05" fill="#7fff7f"/>
<rect x="266.76" y="579.3" width="1.05" height="1.05" fill="#7fff7f"/>
<rect x="267.76" y="579.3" width="0.55" height="1.05" fill="#00ffff"/>
<rect x="268.26" y="579.3" width="0.55" height="1.05" fill="#007fff"/>
<rect x="268.76" y="579.3" width="0.55" height="1.05" fill="#002aff"/>
<rect x="269.26" y="579.3" width="0.55" height="1.05" fill="#0055ff"/>
<rect x="269.76" y="579.3" width="0.55" height="1.05" fill="#00d4ff"/>
<rect x="270.26" y="579.3" width="0.55" height="1.05" fill="#7fff7f"/>
<rect x="270.76" y="579.3" width="0.55" height="1.05" fill="#ffd400"/>
<rect x="271.26" y="579.3" width="0.55" height="1.05" fill="#ff7f00"/>
<rect x="271.76" y="579.3" width="0.55" height="1.05" fill="#ffa900"/>
<rect x="272.26" y="579.3" width="0.55" height="1.05" fill="#ffff00"/>
<rect x="272.76" y="579.3" width="0.55" height="1.05" fill="#d4ff2a"/>
<rect x="273.26" y="579.3" width="0.55" height="1.05" fill="#a9ff55"/>
<rect x="273.76" y="579.3" width="0.23" height="1.05" fill="#7fff7f"/>
<rect x="266.80" y="580.3" width="1.05" height="1.05" fill="#7fff7f"/>
<rect x="267.80" y="580.3" width="0.55" height="1.05" fill="#00ffff"/>
<rect x="268.30" y="580.3" width="0.55" height="1.05" fill="#007fff"/>
<rect x="268.80" y="580.3" width="0.55" height="1.05" fill="#002aff"/>
<rect x="269.30" y="580.3" width="0.55" height="1.05" fill="#0055ff"/>
<rect x="269.80" y="580.3" width="0.55" height="1.05" fill="#00d4ff"/>
<rect x="270.30" y="580.3" width="0.55" height="1.05" fill="#a9ff55"/>
<rect x="270.80" y="580.3" width="0.55" height="1.05" fill="#ffd400"/>
<rect x="271.30" y="580.3" width="0.55" height="1.05" fill="#ff7f00"/>
<rect x="271.80" y="580.3" width="0.55" height="1.05" fill="#ffa900"/>
<rect x="272.30" y="580.3" width="0.55" height="1.05" fill="#ffff00"/>
<rect x="272.80" y="580.3" width="0.55" height="1.05" fill="#d4ff2a"/>
<rect x="273.30" y="580.3" width="0.55" height="1.05" fill="#a9ff55"/>
<rect x="273.80" y="580.3" width="0.19" height="1.05" fill="#7fff7f"/>
<rect x="266.83" y="581.3" width="1.05" height="1.05" fill="#7fff7f"/>
<rect x="267.83" y="581.3" width="0.55" height="1.05" fill="#00ffff"/>
<rect x="268.33" y="581.3" width="0.55" height="1.05" fill="#007fff"/>
<rect x="268.83" y="581.3" width="1.05" height="1.05" fill="#0055ff"/>
<rect x="269.83" y="581.3" width="0.55" height="1.05" fill="#00ffff"/>
<rect x="270.33" y="581.3" width="0.55" height="1.05" fill="#a9ff55"/>
<rect x="270.83" y="581.3" width="0.55" height="1.05" fill="#ffa900"/>
<rect x="271.33" y="581.3" width="0.55" height="1.05" fill="#ff7f00"/>
<rect x="271.83" y="581.3" width="0.55" height="1.05" fill="#ffa900"/>
<rect x="272.33" y="581.3" width="0.55" height="1.05" fill="#ffff00"/>
<rect x="272.83" y="581.3" width="0.55" height="1.05" fill="#d4ff2a"/>
<rect x="273.33" y="581.3" width="0.55" height="1.05" fill="#a9ff55"/>
<rect x="273.83" y="581.3" width="0.14" height="1.05" fill="#7fff7f"/>
<rect x="266.87" y="582.3" width="1.05" height="1.05" fill="#7fff7f"/>
<rect x="267.87" y="582.3" width="0.55" height="1.05" fill="#00ffff"/>
<rect x="268.37" y="582.3" width="0.55" height="1.05" fill="#00aaff"/>
<rect x="268.87" y="582.3" width="0.55" height="1.05" fill="#0055ff"/>
<rect x="269.37" y="582.3" width="0.55" height="1.05" fill="#007fff"/>
<rect x="269.87" y="582.3" width="0.55" height="1.05" fill="#00ffff"/>
<rect x="270.37" y="582.3" width="0.55" height="1.05" fill="#d4ff2a"/>
<rect x="270.87" y="582.3" width="0.55" height="1.05" fill="#ffa900"/>
<rect x="271.37" y="582.3" width="0.55" height="1.05" fill="#ff7f00"/>
<rect x="271.87" y="582.3" width="0.55" height="1.05" fill="#ffa900"/>
<rect x="272.37" y="582.3" width="0.55" height="1.05" fill="#ffff00"/>
<rect x="272.87" y="582.3" width="0.55" height="1.05" fill="#d4ff2a"/>
<rect x="273.37" y="582.3" width="0.55" height="1.05" fill="#a9ff55"/>
<rect x="273.87" y="582.3" width="0.10" height="1.05" fill="#7fff7f"/>
<rect x="266.91" y="583.3" width="1.05" height="1.05" fill="#7fff7f"/>
<rect x="267.91" y="583.3" width="0.55" height="1.05" fill="#2affd4"/>
<rect x="268.41" y="583.3" width="0.55" height="1.05" fill="#00aaff"/>
<rect x="268.91" y="583.3" width="0.55" height="1.05" fill="#0055ff"/>
<rect x="269.41" y="583.3" width="0.55" height="1.05" fill="#007fff"/>
<rect x="269.91" y="583.3" width="0.55" height="1.05" fill="#2affd4"/>
<rect x="270.41" y="583.3" width="0.55" height="1.05" fill="#d4ff2a"/>
<rect x="270.91" y="583.3" width="0.55" height="1.05" fill="#ffa900"/>
<rect x="271.41" y="583.3" width="0.55" height="1.05" fill="#ff7f00"/>
<rect x="271.91" y="583.3" width="0.55" height="1.05" fill="#ffa900"/>
<rect x="272.41" y="583.3" width="0.55" height="1.05" fill="#ffff00"/>
<rect x="272.91" y="583.3" width="0.55" height="1.05" fill="#d4ff2a"/>
<rect x="273.41" y="583.3" width="0.55" height="1.05" fill="#a9ff55"/>
<rect x="273.91" y="583.3" width="0.06" height="1.05" fill="#7fff7f"/>
<rect x="266.95" y="584.3" width="1.05" height="1.05" fill="#7fff7f"/>
<rect x="267.95" y="584.3" width="0.55" height="1.05" fill="#2affd4"/>
<rect x="268.45" y="584.3" width="0.55" height="1.05" fill="#00aaff"/>
<rect x="268.95" y="584.3" width="1.05" height="1.05" fill="#007fff"/>
<rect x="269.95" y="584.3" width="0.55" height="1.05" fill="#2affd4"/>
<rect x="270.45" y="584.3" width="0.55" height="1.05" fill="#d4ff2a"/>
<rect x="270.95" y="584.3" width="0.55" height="1.05" fill="#ffa900"/>
<rect x="271.45" y="584.3" width="0.55" height="1.05" fill="#ff7f00"/>
<rect x="271.95" y="584.3" width="0.55" height="1.05" fill="#ffa900"/>
<rect x="272.45" y="584.3" width="0.55" height="1.05" fill="#ffff00"/>
<rect x="272.95" y="584.3" width="0.55" height="1.05" fill="#d4ff2a"/>
<rect x="273.45" y="584.3" width="0.51" height="1.05" fill="#a9ff55"/>
<rect x="266.99" y="585.3" width="1.05" height="1.05" fill="#7fff7f"/>
<rect x="267.99" y="585.3" width="0.55" height="1.05" fill="#2affd4"/>
<rect x="268.49" y="585.3" width="0.55" height="1.05" fill="#00aaff"/>
<rect x="268.99" y="585.3" width="0.55" height="1.05" fill="#007fff"/>
<rect x="269.49" y="585.3" width="0.55" height="1.05" fill="#00aaff"/>
<rect x="269.99" y="585.3" width="0.55" height="1.05" fill="#2affd4"/>
<rect x="270.49" y="585.3" width="0.55" height="1.05" fill="#ffff00"/>
<rect x="270.99" y="585.3" width="1.05" height="1.05" fill="#ff7f00"/>
<rect x="271.99" y="585.3" width="0.55" height="1.05" fill="#ffa900"/>
<rect x="272.49" y="585.3" width="0.55" height="1.05" fill="#ffff00"/>
<rect x="272.99" y="585.3" width="0.55" height="1.05" fill="#d4ff2a"/>
<rect x="273.49" y="585.3" width="0.47" height="1.05" fill="#a9ff55"/>
<rect x="267.03" y="586.3" width="0.55" height="1.05" fill="#7fff7f"/>
<rect x="267.53" y="586.3" width="0.55" height="1.05" fill="#54ffaa"/>
<rect x="268.03" y="586.3" width="0.55" height="1.05" fill="#2affd4"/>
<rect x="268.53" y="586.3" width="0.55" height="1.05" fill="#00aaff"/>
<rect x="269.03" y="586.3" width="0.55" height="1.05" fill="#007fff"/>
<rect x="269.53" y="586.3" width="0.55" height="1.05" fill="#00aaff"/>
<rect x="270.03" y="586.3" width="0.55" height="1.05" fill="#54ffaa"/>
<rect x="270.53" y="586.3" width="0.55" height="1.05" fill="#ffff00"/>
<rect x="271.03" y="586.3" width="1.05" height="1.05" fill="#ff7f00"/>
<rect x="272.03" y="586.3" width="0.55" height="1.05" fill="#ffa900"/>
<rect x="272.53" y="586.3" width="1.05" height="1.05" fill="#d4ff2a"/>
<rect x="273.53" y="586.3" width="0.42" height="1.05" fill="#a9ff55"/>
<rect x="267.07" y="587.3" width="0.55" height="1.05" fill="#7fff7f"/>
<rect x="267.57" y="587.3" width="0.55" height="1.05" fill="#54ffaa"/>
<rect x="268.07" y="587.3" width="0.55" height="1.05" fill="#2affd4"/>
<rect x="268.57" y="587.3" width="0.55" height="1.05" fill="#00aaff"/>
<rect x="269.07" y="587.3" width="0.55" height="1.05" fill="#007fff"/>
<rect x="269.57" y="587.3" width="0.55" height="1.05" fill="#00aaff"/>
<rect x="270.07" y="587.3" width="0.55" height="1.05" fill="#54ffaa"/>
<rect x="270.57" y="587.3" width="0.55" height="1.05" fill="#ffff00"/>
<rect x="271.07" y="587.3" width="1.05" height="1.05" fill="#ff7f00"/>
<rect x="272.07" y="587.3" width="0.55" height="1.05" fill="#ffd400"/>
<rect x="272.57" y="587.3" width="0.55" height="1.05" fill="#d4ff2a"/>
<rect x="273.07" y="587.3" width="0.87" height="1.05" fill="#a9ff55"/>
<rect x="267.11" y="588.3" width="0.55" height="1.05" fill="#7fff7f"/>
<rect x="267.61" y="588.3" width="0.55" height="1.05" fill="#54ffaa"/>
<rect x="268.11" y="588.3" width="0.55" height="1.05" fill="#2affd4"/>
<rect x="268.61" y="588.3" width="1.05" height="1.05" fill="#00aaff"/>
<rect x="269.61" y="588.3" width="0.55" height="1.05" fill="#00d4ff"/>
<rect x="270.11" y="588.3" width="0.55" height="1.05" fill="#7fff7f"/>
<rect x="270.61" y="588.3" width="0.55" height="1.05" fill="#ffd400"/>
<rect x="271.11" y="588.3" width="1.05" height="1.05" fill="#ff7f00"/>
<rect x="272.11" y="588.3" width="0.55" height="1.05" fill="#ffd400"/>
<rect x="272.61" y="588.3" width="0.55" height="1.05" fill="#d4ff2a"/>
<rect x="273.11" y="588.3" width="0.82" height="1.05" fill="#a9ff55"/>
<rect x="267.15" y="589.3" width="0.55" height="1.05" fill="#7fff7f"/>
<rect x="267.65" y="589.3" width="0.55" height="1.05" fill="#54ffaa"/>
<rect x="268.15" y="589.3" width="0.55" height="1.05" fill="#2affd4"/>
<rect x="268.65" y="589.3" width="1.05" height="1.05" fill="#00aaff"/>
<rect x="269.65" y="589.3" width="0.55" height="1.05" fill="#00d4ff"/>
<rect x="270.15" y="589.3" width="0.55" height="1.05" fill="#7fff7f"/>
<rect x="270.65" y="589.3" width="0.55" height="1.05" fill="#ffd400"/>
<rect x="271.15" y="589.3" width="1.05" height="1.05" fill="#ff7f00"/>
<rect x="272.15" y="589.3" width="0.55" height="1.05" fill="#ffd400"/>
<rect x="272.65" y="589.3" width="0.55" height="1.05" fill="#d4ff2a"/>
<rect x="273.15" y="589.3" width="0.55" height="1.05" fill="#a9ff55"/>
<rect x="273.65" y="589.3" width="0.27" height="1.05" fill="#7fff7f"/>
<rect x="267.20" y="590.3" width="0.55" height="1.05" fill="#7fff7f"/>
<rect x="267.70" y="590.3" width="0.55" height="1.05" fill="#54ffaa"/>
<rect x="268.20" y="590.3" width="0.55" height="1.05" fill="#2affd4"/>
<rect x="268.70" y="590.3" width="1.05" height="1.05" fill="#00aaff"/>
<rect x="269.70" y="590.3" width="0.55" height="1.05" fill="#00ffff"/>
<rect x="270.20" y="590.3" width="0.55" height="1.05" fill="#a9ff55"/>
<rect x="270.70" y="590.3" width="0.55" height="1.05" fill="#ffd400"/>
<rect x="271.20" y="590.3" width="1.05" height="1.05" fill="#ff7f00"/>
<rect x="272.20" y="590.3" width="0.55" height="1.05" fill="#ffd400"/>
<rect x="272.70" y="590.3" width="0.55" height="1.05" fill="#d4ff2a"/>
<rect x="273.20" y="590.3" width="0.55" height="1.05" fill="#a9ff55"/>
<rect x="273.70" y="590.3" width="0.22" height="1.05" fill="#7fff7f"/>
<rect x="267.24" y="591.3" width="0.55" height="1.05" fill="#7fff7f"/>
<rect x="267.74" y="591.3" width="0.55" height="1.05" fill="#54ffaa"/>
<rect x="268.24" y="591.3" width="0.55" height="1.05" fill="#2affd4"/>
<rect x="268.74" y="591.3" width="1.05" height="1.05" fill="#00aaff"/>
<rect x="269.74" y="591.3" width="0.55" height="1.05" fill="#00ffff"/>
<rect x="270.24" y="591.3" width="0.55" height="1.05" fill="#a9ff55"/>
<rect x="270.74" y="591.3" width="0.55" height="1.05" fill="#ffd400"/>
<rect x="271.24" y="591.3" width="1.05" height="1.05" fill="#ff7f00"/>
<rect x="272.24" y="591.3" width="0.55" height="1.05" fill="#ffd400"/>
<rect x="272.74" y="591.3" width="0.55" height="1.05" fill="#d4ff2a"/>
<rect x="273.24" y="591.3" width="0.55" height="1.05" fill="#a9ff55"/>
<rect x="273.74" y="591.3" width="0.17" height="1.05" fill="#7fff7f"/>
<rect x="267.29" y="592.3" width="0.55" height="1.05" fill="#7fff7f"/>
<rect x="267.79" y="592.3" width="0.55" height="1.05" fill="#54ffaa"/>
<rect x="268.29" y="592.3" width="0.55" height="1.05" fill="#2affd4"/>
<rect x="268.79" y="592.3" width="0.55" height="1.05" fill="#00aaff"/>
<rect x="269.29" y="592.3" width="0.55" height="1.05" fill="#00d4ff"/>
<rect x="269.79" y="592.3" width="0.55" height="1.05" fill="#00ffff"/>
<rect x="270.29" y="592.3" width="0.55" height="1.05" fill="#a9ff55"/>
<rect x="270.79" y="592.3" width="0.55" height="1.05" fill="#ffa900"/>
<rect x="271.29" y="592.3" width="1.05" height="1.05" fill="#ff7f00"/>
<rect x="272.29" y="592.3" width="0.55" height="1.05" fill="#ffd400"/>
<rect x="272.79" y="592.3" width="0.55" height="1.05" fill="#d4ff2a"/>
<rect x="273.29" y="592.3" width="0.55" height="1.05" fill="#a9ff55"/>
<rect x="273.79" y="592.3" width="0.11" height="1.05" fill="#7fff7f"/>
<rect x="267.33" y="593.3" width="0.55" height="1.05" fill="#7fff7f"/>
<rect x="267.83" y="593.3" width="0.55" height="1.05" fill="#54ffaa"/>
<rect x="268.33" y="593.3" width="0.55" height="1.05" fill="#2affd4"/>
<rect x="268.83" y="593.3" width="0.55" height="1.05" fill="#00aaff"/>
<rect x="269.33" y="593.3" width="0.55" height="1.05" fill="#00d4ff"/>
<rect x="269.83" y="593.3" width="0.55" height="1.05" fill="#2affd4"/>
<rect x="270.33" y="593.3" width="0.55" height="1.05" fill="#d4ff2a"/>
<rect x="270.83" y="593.3" width="0.55" height="1.05" fill="#ffa900"/>
<rect x="271.33" y="593.3" width="1.05" height="1.05" fill="#ff7f00"/>
<rect x="272.33" y="593.3" width="0.55" height="1.05" fill="#ffff00"/>
<rect x="272.83" y="593.3" width="0.55" height="1.05" fill="#d4ff2a"/>
<rect x="273.33" y="593.3" width="0.55" height="1.05" fill="#a9ff55"/>
<rect x="273.83" y="593.3" width="0.06" height="1.05" fill="#7fff7f"/>
<rect x="267.38" y="594.3" width="0.55" height="1.05" fill="#7fff7f"/>
<rect x="267.88" y="594.3" width="0.55" height="1.05" fill="#54ffaa"/>
<rect x="268.38" y="594.3" width="0.55" height="1.05" fill="#2affd4"/>
<rect x="268.88" y="594.3" width="0.55" height="1.05" fill="#00aaff"/>
<rect x="269.38" y="594.3" width="0.55" height="1.05" fill="#00d4ff"/>
<rect x="269.88" y="594.3" width="0.55" height="1.05" fill="#2affd4"/>
<rect x="270.38" y="594.3" width="0.55" height="1.05" fill="#d4ff2a"/>
<rect x="270.88" y="594.3" width="0.55" height="1.05" fill="#ffa900"/>
<rect x="271.38" y="594.3" width="1.05" height="1.05" fill="#ff7f00"/>
<rect x="272.38" y="594.3" width="0.55" height="1.05" fill="#ffff00"/>
<rect x="272.88" y="594.3" width="0.55" height="1.05" fill="#d4ff2a"/>
<rect x="273.38" y="594.3" width="0.51" height="1.05" fill="#a9ff55"/>
<rect x="267.43" y="595.3" width="0.55" height="1.05" fill="#7fff7f"/>
<rect x="267.93" y="595.3" width="0.55" height="1.05" fill="#54ffaa"/>
<rect x="268.43" y="595.3" width="0.55" height="1.05" fill="#2affd4"/>
<rect x="268.93" y="595.3" width="0.55" height="1.05" fill="#00aaff"/>
<rect x="269.43" y="595.3" width="0.55" height="1.05" fill="#00d4ff"/>
<rect x="269.93" y="595.3" width="0.55" height="1.05" fill="#2affd4"/>
<rect x="270.43" y="595.3" width="0.55" height="1.05" fill="#d4ff2a"/>
<rect x="270.93" y="595.3" width="0.55" height="1.05" fill="#ffa900"/>
<rect x="271.43" y="595.3" width="0.55" height="1.05" fill="#ff7f00"/>
<rect x="271.93" y="595.3" width="0.55" height="1.05" fill="#ffa900"/>
<rect x="272.43" y="595.3" width="0.55" height="1.05" fill="#ffff00"/>
<rect x="272.93" y="595.3" width="0.55" height="1.05" fill="#d4ff2a"/>
<rect x="273.43" y="595.3" width="0.45" height="1.05" fill="#a9ff55"/>
<rect x="267.47" y="596.3" width="0.55" height="1.05" fill="#7fff7f"/>
<rect x="267.97" y="596.3" width="0.55" height="1.05" fill="#54ffaa"/>
<rect x="268.47" y="596.3" width="0.55" height="1.05" fill="#00ffff"/>
<rect x="268.97" y="596.3" width="0.55" height="1.05" fill="#00aaff"/>
<rect x="269.47" y="596.3" width="0.55" height="1.05" fill="#00d4ff"/>
<rect x="269.97" y="596.3" width="0.55" height="1.05" fill="#54ffaa"/>
<rect x="270.47" y="596.3" width="0.55" height="1.05" fill="#ffff00"/>
<rect x="270.97" y="596.3" width="1.05" height="1.05" fill="#ff7f00"/>
<rect x="271.97" y="596.3" width="0.55" height="1.05" fill="#ffa900"/>
<rect x="272.47" y="596.3" width="0.55" height="1.05" fill="#ffff00"/>
<rect x="272.97" y="596.3" width="0.55" height="1.05" fill="#d4ff2a"/>
<rect x="273.47" y="596.3" width="0.40" height="1.05" fill="#a9ff55"/>
<rect x="267.52" y="597.3" width="0.55" height="1.05" fill="#7fff7f"/>
<rect x="268.02" y="597.3" width="0.55" height="1.05" fill="#54ffaa"/>
<rect x="268.52" y="597.3" width="0.55" height="1.05" fill="#00ffff"/>
<rect x="269.02" y="597.3" width="0.55" height="1.05" fill="#00aaff"/>
<rect x="269.52" y="597.3" width="0.55" height="1.05" fill="#00d4ff"/>
<rect x="270.02" y="597.3" width="0.55" height="1.05" fill="#54ffaa"/>
<rect x="270.52" y="597.3" width="0.55" height="1.05" fill="#ffff00"/>
<rect x="271.02" y="597.3" width="1.05" height="1.05" fill="#ff7f00"/>
<rect x="272.02" y="597.3" width="0.55" height="1.05" fill="#ffa900"/>
<rect x="272.52" y="597.3" width="0.55" height="1.05" fill="#ffff00"/>
<rect x="273.02" y="597.3" width="0.55" height="1.05" fill="#d4ff2a"/>
<rect x="273.52" y="597.3" width="0.34" height="1.05" fill="#a9ff55"/>
<rect x="267.57" y="598.3" width="0.55" height="1.05" fill="#7fff7f"/>
<rect x="268.07" y="598.3" width="0.55" height="1.05" fill="#54ffaa"/>
<rect x="268.57" y="598.3" width="0.55" height="1.05" fill="#00ffff"/>
<rect x="269.07" y="598.3" width="0.55" height="1.05" fill="#00aaff"/>
<rect x="269.57" y="598.3" width="0.55" height="1.05" fill="#00d4ff"/>
<rect x="270.07" y="598.3" width="0.55" height="1.05" fill="#54ffaa"/>
<rect x="270.57" y="598.3" width="0.55" height="1.05" fill="#ffff00"/>
<rect x="271.07" y="598.3" width="1.05" height="1.05" fill="#ff7f00"/>
<rect x="272.07" y="598.3" width="0.55" height="1.05" fill="#ffa900"/>
<rect x="272.57" y="598.3" width="1.05" height="1.05" fill="#d4ff2a"/>
<rect x="273.57" y="598.3" width="0.29" height="1.05" fill="#7fff7f"/>
<rect x="275.80" y="545.8" width="0.55" height="1.05" fill="#54ffaa"/>
<rect x="276.30" y="545.8" width="0.55" height="1.05" fill="#00ffff"/>
<rect x="276.80" y="545.8" width="0.55" height="1.05" fill="#54ffaa"/>
<rect x="277.30" y="545.8" width="0.15" height="1.05" fill="#7fff7f"/>
<rect x="275.80" y="546.8" width="0.55" height="1.05" fill="#54ffaa"/>
<rect x="276.30" y="546.8" width="0.55" height="1.05" fill="#00ffff"/>
<rect x="276.80" y="546.8" width="0.55" height="1.05" fill="#54ffaa"/>
<rect x="277.30" y="546.8" width="0.15" height="1.05" fill="#7fff7f"/>
<rect x="275.80" y="547.8" width="0.55" height="1.05" fill="#54ffaa"/>
<rect x="276.30" y="547.8" width="0.55" height="1.05" fill="#00ffff"/>
<rect x="276.80" y="547.8" width="0.55" height="1.05" fill="#54ffaa"/>
<rect x="277.30" y="547.8" width="0.15" height="1.05" fill="#7fff7f"/>
<rect x="275.80" y="548.8" width="0.55" height="1.05" fill="#54ffaa"/>
<rect x="276.30" y="548.8" width="0.55" height="1.05" fill="#00ffff"/>
<rect x="276.80" y="548.8" width="0.55" height="1.05" fill="#54ffaa"/>
<rect x="277.30" y="548.8" width="0.15" height="1.05" fill="#7fff7f"/>
<rect x="275.80" y="549.8" width="0.55" height="1.05" fill="#54ffaa"/>
<rect x="276.30" y="549.8" width="0.55" height="1.05" fill="#00ffff"/>
<rect x="276.80" y="549.8" width="0.55" height="1.05" fill="#54ffaa"/>
<rect x="277.30" y="549.8" width="0.15" height="1.05" fill="#7fff7f"/>
<rect x="275.80" y="550.8" width="0.55" height="1.05" fill="#54ffaa"/>
<rect x="276.30" y="550.8" width="0.55" height="1.05" fill="#00ffff"/>
<rect x="276.80" y="550.8" width="0.55" height="1.05" fill="#54ffaa"/>
<rect x="277.30" y="550.8" width="0.15" height="1.05" fill="#7fff7f"/>
<rect x="275.60" y="551.8" width="0.55" height="1.05" fill="#54ffaa"/>
<rect x="276.10" y="551.8" width="1.05" height="1.05" fill="#2affd4"/>
<rect x="277.10" y="551.8" width="0.55" height="1.05" fill="#54ffaa"/>
<rect x="275.60" y="552.8" width="0.55" height="1.05" fill="#54ffaa"/>
<rect x="276.10" y="552.8" width="1.05" height="1.05" fill="#2affd4"/>
<rect x="277.10" y="552.8" width="0.55" height="1.05" fill="#54ffaa"/>
<rect x="275.60" y="553.8" width="0.55" height="1.05" fill="#54ffaa"/>
<rect x="276.10" y="553.8" width="1.05" height="1.05" fill="#2affd4"/>
<rect x="277.10" y="553.8" width="0.55" height="1.05" fill="#54ffaa"/>
<rect x="275.60" y="554.8" width="0.55" height="1.05" fill="#54ffaa"/>
<rect x="276.10" y="554.8" width="1.05" height="1.05" fill="#2affd4"/>
<rect x="277.10" y="554.8" width="0.55" height="1.05" fill="#54ffaa"/>
<rect x="275.60" y="555.8" width="0.55" height="1.05" fill="#54ffaa"/>
<rect x="276.10" y="555.8" width="1.05" height="1.05" fill="#2affd4"/>
<rect x="277.10" y="555.8" width="0.55" height="1.05" fill="#54ffaa"/>
<rect x="275.60" y="556.8" width="0.55" height="1.05" fill="#54ffaa"/>
<rect x="276.10" y="556.8" width="1.05" height="1.05" fill="#2affd4"/>
<rect x="277.10" y="556.8" width="0.55" height="1.05" fill="#54ffaa"/>
<rect x="275.60" y="557.8" width="0.55" height="1.05" fill="#54ffaa"/>
<rect x="276.10" y="557.8" width="1.05" height="1.05" fill="#2affd4"/>
<rect x="277.10" y="557.8" width="0.55" height="1.05" fill="#54ffaa"/>
<rect x="275.60" y="558.8" width="0.55" height="1.05" fill="#54ffaa"/>
<rect x="276.10" y="558.8" width="1.05" height="1.05" fill="#2affd4"/>
<rect x="277.10" y="558.8" width="0.55" height="1.05" fill="#54ffaa"/>
<rect x="275.60" y="559.8" width="0.55" height="1.05" fill="#54ffaa"/>
<rect x="276.10" y="559.8" width="1.05" height="1.05" fill="#2affd4"/>
<rect x="277.10" y="559.8" width="0.55" height="1.05" fill="#54ffaa"/>
<rect x="275.60" y="560.8" width="0.55" height="1.05" fill="#54ffaa"/>
<rect x="276.10" y="560.8" width="1.05" height="1.05" fill="#2affd4"/>
<rect x="277.10" y="560.8" width="0.55" height="1.05" fill="#54ffaa"/>
<rect x="275.60" y="561.8" width="0.55" height="1.05" fill="#54ffaa"/>
<rect x="276.10" y="561.8" width="1.05" height="1.05" fill="#2affd4"/>
<rect x="277.10" y="561.8" width="0.55" height="1.05" fill="#54ffaa"/>
<rect x="275.60" y="562.8" width="0.55" height="1.05" fill="#54ffaa"/>
<rect x="276.10" y="562.8" width="1.05" height="1.05" fill="#2affd4"/>
<rect x="277.10" y="562.8" width="0.55" height="1.05" fill="#54ffaa"/>
<rect x="275.60" y="563.8" width="0.55" height="1.05" fill="#54ffaa"/>
<rect x="276.10" y="563.8" width="1.05" height="1.05" fill="#2affd4"/>
<rect x="277.10" y="563.8" width="0.55" height="1.05" fill="#54ffaa"/>
<rect x="275.60" y="564.8" width="0.55" height="1.05" fill="#54ffaa"/>
<rect x="276.10" y="564.8" width="1.05" height="1.05" fill="#2affd4"/>
<rect x="277.10" y="564.8" width="0.55" height="1.05" fill="#54ffaa"/>
<rect x="275.60" y="565.8" width="0.55" height="1.05" fill="#54ffaa"/>
<rect x="276.10" y="565.8" width="1.05" height="1.05" fill="#2affd4"/>
<rect x="277.10" y="565.8" width="0.55" height="1.05" fill="#54ffaa"/>
<rect x="275.60" y="566.8" width="0.55" height="1.05" fill="#54ffaa"/>
<rect x="276.10" y="566.8" width="1.05" height="1.05" fill="#2affd4"/>
<rect x="277.10" y="566.8" width="0.55" height="1.05" fill="#54ffaa"/>
<rect x="275.80" y="567.8" width="0.55" height="1.05" fill="#54ffaa"/>
<rect x="276.30" y="567.8" width="0.55" height="1.05" fill="#00ffff"/>
<rect x="276.80" y="567.8" width="0.55" height="1.05" fill="#54ffaa"/>
<rect x="277.30" y="567.8" width="0.15" height="1.05" fill="#7fff7f"/>
<rect x="275.80" y="568.8" width="0.55" height="1.05" fill="#54ffaa"/>
<rect x="276.30" y="568.8" width="0.55" height="1.05" fill="#00ffff"/>
<rect x="276.80" y="568.8" width="0.55" height="1.05" fill="#54ffaa"/>
<rect x="277.30" y="568.8" width="0.15" height="1.05" fill="#7fff7f"/>
<rect x="275.80" y="569.8" width="0.55" height="1.05" fill="#54ffaa"/>
<rect x="276.30" y="569.8" width="0.55" height="1.05" fill="#00ffff"/>
<rect x="276.80" y="569.8" width="0.55" height="1.05" fill="#54ffaa"/>
<rect x="277.30" y="569.8" width="0.15" height="1.05" fill="#7fff7f"/>
<rect x="275.80" y="570.8" width="0.55" height="1.05" fill="#54ffaa"/>
<rect x="276.30" y="570.8" width="0.55" height="1.05" fill="#00ffff"/>
<rect x="276.80" y="570.8" width="0.55" height="1.05" fill="#54ffaa"/>
<rect x="277.30" y="570.8" width="0.15" height="1.05" fill="#7fff7f"/>
<rect x="275.80" y="571.8" width="0.55" height="1.05" fill="#54ffaa"/>
<rect x="276.30" y="571.8" width="0.55" height="1.05" fill="#00ffff"/>
<rect x="276.80" y="571.8" width="0.55" height="1.05" fill="#54ffaa"/>
<rect x="277.30" y="571.8" width="0.15" height="1.05" fill="#7fff7f"/>
<rect x="275.80" y="572.8" width="0.55" height="1.05" fill="#54ffaa"/>
<rect x="276.30" y="572.8" width="0.55" height="1.05" fill="#00ffff"/>
<rect x="276.80" y="572.8" width="0.55" height="1.05" fill="#54ffaa"/>
<rect x="277.30" y="572.8" width="0.15" height="1.05" fill="#7fff7f"/>
<rect x="282.40" y="544.3" width="3.25" height="1.05" fill="#7fff7f"/>
<rect x="282.40" y="545.3" width="3.25" height="1.05" fill="#7fff7f"/>
<rect x="282.40" y="546.3" width="3.25" height="1.05" fill="#7fff7f"/>
<rect x="282.40" y="547.3" width="3.25" height="1.05" fill="#7fff7f"/>
<rect x="282.40" y="548.3" width="3.25" height="1.05" fill="#7fff7f"/>
<rect x="282.40" y="549.3" width="3.25" height="1.05" fill="#7fff7f"/>
<rect x="281.30" y="550.3" width="1.05" height="1.05" fill="#7fff7f"/>
<rect x="282.30" y="550.3" width="0.55" height="1.05" fill="#a9ff55"/>
<rect x="282.80" y="550.3" width="2.55" height="1.05" fill="#7fff7f"/>
<rect x="285.30" y="550.3" width="0.55" height="1.05" fill="#a9ff55"/>
<rect x="285.80" y="550.3" width="0.95" height="1.05" fill="#7fff7f"/>
<rect x="281.30" y="551.3" width="1.05" height="1.05" fill="#7fff7f"/>
<rect x="282.30" y="551.3" width="0.55" height="1.05" fill="#a9ff55"/>
<rect x="282.80" y="551.3" width="2.55" height="1.05" fill="#7fff7f"/>
<rect x="285.30" y="551.3" width="0.55" height="1.05" fill="#a9ff55"/>
<rect x="285.80" y="551.3" width="0.95" height="1.05" fill="#7fff7f"/>
<rect x="281.30" y="552.3" width="1.05" height="1.05" fill="#7fff7f"/>
<rect x="282.30" y="552.3" width="0.55" height="1.05" fill="#a9ff55"/>
<rect x="282.80" y="552.3" width="2.55" height="1.05" fill="#7fff7f"/>
<rect x="285.30" y="552.3" width="0.55" height="1.05" fill="#a9ff55"/>
<rect x="285.80" y="552.3" width="0.95" height="1.05" fill="#7fff7f"/>
<rect x="281.30" y="553.3" width="1.05" height="1.05" fill="#7fff7f"/>
<rect x="282.30" y="553.3" width="0.55" height="1.05" fill="#a9ff55"/>
<rect x="282.80" y="553.3" width="2.55" height="1.05" fill="#7fff7f"/>
<rect x="285.30" y="553.3" width="0.55" height="1.05" fill="#a9ff55"/>
<rect x="285.80" y="553.3" width="0.95" height="1.05" fill="#7fff7f"/>
<rect x="281.30" y="554.3" width="1.05" height="1.05" fill="#7fff7f"/>
<rect x="282.30" y="554.3" width="0.55" height="1.05" fill="#a9ff55"/>
<rect x="282.80" y="554.3" width="2.55" height="1.05" fill="#7fff7f"/>
<rect x="285.30" y="554.3" width="0.55" height="1.05" fill="#a9ff55"/>
<rect x="285.80" y="554.3" width="0.95" height="1.05" fill="#7fff7f"/>
<rect x="281.30" y="555.3" width="1.05" height="1.05" fill="#7fff7f"/>
<rect x="282.30" y="555.3" width="0.55" height="1.05" fill="#a9ff55"/>
<rect x="282.80" y="555.3" width="2.55" height="1.05" fill="#7fff7f"/>
<rect x="285.30" y="555.3" width="0.55" height="1.05" fill="#a9ff55"/>
<rect x="285.80" y="555.3" width="0.95" height="1.05" fill="#7fff7f"/>
<rect x="281.30" y="556.3" width="1.05" height="1.05" fill="#7fff7f"/>
<rect x="282.30" y="556.3" width="0.55" height="1.05" fill="#a9ff55"/>
<rect x="282.80" y="556.3" width="2.55" height="1.05" fill="#7fff7f"/>
<rect x="285.30" y="556.3" width="0.55" height="1.05" fill="#a9ff55"/>
<rect x="285.80" y="556.3" width="0.95" height="1.05" fill="#7fff7f"/>
<rect x="281.30" y="557.3" width="1.05" height="1.05" fill="#7fff7f"/>
<rect x="282.30" y="557.3" width="0.55" height="1.05" fill="#a9ff55"/>
<rect x="282.80" y="557.3" width="2.55" height="1.05" fill="#7fff7f"/>
<rect x="285.30" y="557.3" width="0.55" height="1.05" fill="#a9ff55"/>
<rect x="285.80" y="557.3" width="0.95" height="1.05" fill="#7fff7f"/>
<rect x="281.30" y="558.3" width="1.05" height="1.05" fill="#7fff7f"/>
<rect x="282.30" y="558.3" width="0.55" height="1.05" fill="#a9ff55"/>
<rect x="282.80" y="558.3" width="2.55" height="1.05" fill="#7fff7f"/>
<rect x="285.30" y="558.3" width="0.55" height="1.05" fill="#a9ff55"/>
<rect x="285.80" y="558.3" width="0.95" height="1.05" fill="#7fff7f"/>
<rect x="281.30" y="559.3" width="1.05" height="1.05" fill="#7fff7f"/>
<rect x="282.30" y="559.3" width="0.55" height="1.05" fill="#a9ff55"/>
<rect x="282.80" y="559.3" width="2.55" height="1.05" fill="#7fff7f"/>
<rect x="285.30" y="559.3" width="0.55" height="1.05" fill="#a9ff55"/>
<rect x="285.80" y="559.3" width="0.95" height="1.05" fill="#7fff7f"/>
<rect x="281.30" y="560.3" width="1.05" height="1.05" fill="#7fff7f"/>
<rect x="282.30" y="560.3" width="0.55" height="1.05" fill="#a9ff55"/>
<rect x="282.80" y="560.3" width="2.55" height="1.05" fill="#7fff7f"/>
<rect x="285.30" y="560.3" width="0.55" height="1.05" fill="#a9ff55"/>
<rect x="285.80" y="560.3" width="0.95" height="1.05" fill="#7fff7f"/>
<rect x="281.30" y="561.3" width="1.05" height="1.05" fill="#7fff7f"/>
<rect x="282.30" y="561.3" width="0.55" height="1.05" fill="#a9ff55"/>
<rect x="282.80" y="561.3" width="2.55" height="1.05" fill="#7fff7f"/>
<rect x="285.30" y="561.3" width="0.55" height="1.05" fill="#a9ff55"/>
<rect x="285.80" y="561.3" width="0.95" height="1.05" fill="#7fff7f"/>
<rect x="281.30" y="562.3" width="1.05" height="1.05" fill="#7fff7f"/>
<rect x="282.30" y="562.3" width="0.55" height="1.05" fill="#a9ff55"/>
<rect x="282.80" y="562.3" width="2.55" height="1.05" fill="#7fff7f"/>
<rect x="285.30" y="562.3" width="0.55" height="1.05" fill="#a9ff55"/>
<rect x="285.80" y="562.3" width="0.95" height="1.05" fill="#7fff7f"/>
<rect x="281.30" y="563.3" width="1.05" height="1.05" fill="#7fff7f"/>
<rect x="282.30" y="563.3" width="0.55" height="1.05" fill="#a9ff55"/>
<rect x="282.80" y="563.3" width="2.55" height="1.05" fill="#7fff7f"/>
<rect x="285.30" y="563.3" width="0.55" height="1.05" fill="#a9ff55"/>
<rect x="285.80" y="563.3" width="0.95" height="1.05" fill="#7fff7f"/>
<rect x="281.30" y="564.3" width="1.05" height="1.05" fill="#7fff7f"/>
<rect x="282.30" y="564.3" width="0.55" height="1.05" fill="#a9ff55"/>
<rect x="282.80" y="564.3" width="2.55" height="1.05" fill="#7fff7f"/>
<rect x="285.30" y="564.3" width="0.55" height="1.05" fill="#a9ff55"/>
<rect x="285.80" y="564.3" width="0.95" height="1.05" fill="#7fff7f"/>
<rect x="281.30" y="565.3" width="1.05" height="1.05" fill="#7fff7f"/>
<rect x="282.30" y="565.3" width="0.55" height="1.05" fill="#a9ff55"/>
<rect x="282.80" y="565.3" width="2.55" height="1.05" fill="#7fff7f"/>
<rect x="285.30" y="565.3" width="0.55" height="1.05" fill="#a9ff55"/>
<rect x="285.80" y="565.3" width="0.95" height="1.05" fill="#7fff7f"/>
<rect x="281.30" y="566.3" width="1.05" height="1.05" fill="#7fff7f"/>
<rect x="282.30" y="566.3" width="0.55" height="1.05" fill="#a9ff55"/>
<rect x="282.80" y="566.3" width="2.55" height="1.05" fill="#7fff7f"/>
<rect x="285.30" y="566.3" width="0.55" height="1.05" fill="#a9ff55"/>
<rect x="285.80" y="566.3" width="0.95" height="1.05" fill="#7fff7f"/>
<rect x="281.30" y="567.3" width="1.05" height="1.05" fill="#7fff7f"/>
<rect x="282.30" y="567.3" width="0.55" height="1.05" fill="#a9ff55"/>
<rect x="282.80" y="567.3" width="2.55" height="1.05" fill="#7fff7f"/>
<rect x="285.30" y="567.3" width="0.55" height="1.05" fill="#a9ff55"/>
<rect x="285.80" y="567.3" width="0.95" height="1.05" fill="#7fff7f"/>
<rect x="282.40" y="568.3" width="3.25" height="1.05" fill="#7fff7f"/>
<rect x="282.40" y="569.3" width="3.25" height="1.05" fill="#7fff7f"/>
<rect x="282.40" y="570.3" width="3.25" height="1.05" fill="#7fff7f"/>
<rect x="282.40" y="571.3" width="3.25" height="1.05" fill="#7fff7f"/>
<rect x="282.40" y="572.3" width="3.25" height="1.05" fill="#7fff7f"/>
<rect x="265.60" y="533.0" width="0.55" height="1.05" fill="#7fff7f"/>
<rect x="266.10" y="533.0" width="1.05" height="1.05" fill="#a9ff55"/>
<rect x="267.10" y="533.0" width="0.55" height="1.05" fill="#7fff7f"/>
<rect x="265.60" y="534.0" width="0.55" height="1.05" fill="#7fff7f"/>
<rect x="266.10" y="534.0" width="1.05" height="1.05" fill="#a9ff55"/>
<rect x="267.10" y="534.0" width="0.55" height="1.05" fill="#7fff7f"/>
<rect x="265.60" y="535.0" width="0.55" height="1.05" fill="#7fff7f"/>
<rect x="266.10" y="535.0" width="1.05" height="1.05" fill="#a9ff55"/>
<rect x="267.10" y="535.0" width="0.55" height="1.05" fill="#7fff7f"/>
<rect x="265.60" y="536.0" width="0.55" height="1.05" fill="#7fff7f"/>
<rect x="266.10" y="536.0" width="1.05" height="1.05" fill="#a9ff55"/>
<rect x="267.10" y="536.0" width="0.55" height="1.05" fill="#7fff7f"/>
<rect x="265.60" y="537.0" width="0.55" height="1.05" fill="#7fff7f"/>
<rect x="266.10" y="537.0" width="1.05" height="1.05" fill="#a9ff55"/>
<rect x="267.10" y="537.0" width="0.55" height="1.05" fill="#7fff7f"/>
<rect x="265.60" y="538.0" width="0.55" height="1.05" fill="#7fff7f"/>
<rect x="266.10" y="538.0" width="1.05" height="1.05" fill="#a9ff55"/>
<rect x="267.10" y="538.0" width="0.55" height="1.05" fill="#7fff7f"/>
<rect x="265.60" y="539.0" width="0.55" height="1.05" fill="#7fff7f"/>
<rect x="266.10" y="539.0" width="1.05" height="1.05" fill="#a9ff55"/>
<rect x="267.10" y="539.0" width="0.55" height="1.05" fill="#7fff7f"/>
<rect x="265.60" y="540.0" width="0.55" height="1.05" fill="#7fff7f"/>
<rect x="266.10" y="540.0" width="1.05" height="1.05" fill="#a9ff55"/>
<rect x="267.10" y="540.0" width="0.55" height="1.05" fill="#7fff7f"/>
<rect x="265.60" y="579.7" width="0.55" height="1.05" fill="#7fff7f"/>
<rect x="266.10" y="579.7" width="1.05" height="1.05" fill="#a9ff55"/>
<rect x="267.10" y="579.7" width="0.55" height="1.05" fill="#7fff7f"/>
<rect x="265.60" y="580.7" width="0.55" height="1.05" fill="#7fff7f"/>
<rect x="266.10" y="580.7" width="1.05" height="1.05" fill="#a9ff55"/>
<rect x="267.10" y="580.7" width="0.55" height="1.05" fill="#7fff7f"/>
<rect x="265.60" y="581.7" width="0.55" height="1.05" fill="#7fff7f"/>
<rect x="266.10" y="581.7" width="1.05" height="1.05" fill="#a9ff55"/>
<rect x="267.10" y="581.7" width="0.55" height="1.05" fill="#7fff7f"/>
<rect x="265.60" y="582.7" width="0.55" height="1.05" fill="#7fff7f"/>
<rect x="266.10" y="582.7" width="1.05" height="1.05" fill="#a9ff55"/>
<rect x="267.10" y="582.7" width="0.55" height="1.05" fill="#7fff7f"/>
<rect x="265.60" y="583.7" width="0.55" height="1.05" fill="#7fff7f"/>
<rect x="266.10" y="583.7" width="1.05" height="1.05" fill="#a9ff55"/>
<rect x="267.10" y="583.7" width="0.55" height="1.05" fill="#7fff7f"/>
<rect x="265.60" y="584.7" width="0.55" height="1.05" fill="#7fff7f"/>
<rect x="266.10" y="584.7" width="1.05" height="1.05" fill="#a9ff55"/>
<rect x="267.10" y="584.7" width="0.55" height="1.05" fill="#7fff7f"/>
<rect x="265.60" y="585.7" width="0.55" height="1.05" fill="#7fff7f"/>
<rect x="266.10" y="585.7" width="1.05" height="1.05" fill="#a9ff55"/>
<rect x="267.10" y="585.7" width="0.55" height="1.05" fill="#7fff7f"/>
<rect x="265.60" y="586.7" width="0.55" height="1.05" fill="#7fff7f"/>
<rect x="266.10" y="586.7" width="1.05" height="1.05" fill="#a9ff55"/>
<rect x="267.10" y="586.7" width="0.55" height="1.05" fill="#7fff7f"/>
<rect x="262.50" y="554.0" width="0.55" height="1.05" fill="#7fff7f"/>
<rect x="263.00" y="554.0" width="1.05" height="1.05" fill="#a9ff55"/>
<rect x="264.00" y="554.0" width="0.35" height="1.05" fill="#7fff7f"/>
<rect x="262.50" y="555.0" width="0.55" height="1.05" fill="#7fff7f"/>
<rect x="263.00" y="555.0" width="1.05" height="1.05" fill="#a9ff55"/>
<rect x="264.00" y="555.0" width="0.35" height="1.05" fill="#7fff7f"/>
<rect x="262.50" y="556.0" width="0.55" height="1.05" fill="#7fff7f"/>
<rect x="263.00" y="556.0" width="1.05" height="1.05" fill="#a9ff55"/>
<rect x="264.00" y="556.0" width="0.35" height="1.05" fill="#7fff7f"/>
<rect x="264.00" y="558.6" width="0.55" height="1.05" fill="#7fff7f"/>
<rect x="264.50" y="558.6" width="1.55" height="1.05" fill="#a9ff55"/>
<rect x="266.00" y="558.6" width="0.25" height="1.05" fill="#7fff7f"/>
<rect x="264.00" y="559.6" width="0.55" height="1.05" fill="#7fff7f"/>
<rect x="264.50" y="559.6" width="1.55" height="1.05" fill="#a9ff55"/>
<rect x="266.00" y="559.6" width="0.25" height="1.05" fill="#7fff7f"/>
<rect x="264.00" y="560.6" width="0.55" height="1.05" fill="#7fff7f"/>
<rect x="264.50" y="560.6" width="1.55" height="1.05" fill="#a9ff55"/>
<rect x="266.00" y="560.6" width="0.25" height="1.05" fill="#7fff7f"/>
<rect x="264.00" y="561.6" width="0.55" height="1.05" fill="#7fff7f"/>
<rect x="264.50" y="561.6" width="1.55" height="1.05" fill="#a9ff55"/>
<rect x="266.00" y="561.6" width="0.25" height="1.05" fill="#7fff7f"/>
<rect x="264.00" y="562.6" width="0.55" height="1.05" fill="#7fff7f"/>
<rect x="264.50" y="562.6" width="1.55" height="1.05" fill="#a9ff55"/>
<rect x="266.00" y="562.6" width="0.25" height="1.05" fill="#7fff7f"/>
</g>
</g>
<line x1="2.0" y1="514.3" x2="303.6" y2="514.3" stroke="#f4f4f4" stroke-width="0.8"/>
<line x1="2.0" y1="604.0" x2="303.6" y2="604.0" stroke="#222" stroke-width="1"/>
<line x1="303.6" y1="514.0" x2="303.6" y2="604.0" stroke="#222" stroke-width="1"/>
<line x1="3.2" y1="604.0" x2="3.2" y2="602.2" stroke="#555" stroke-width="0.8"/>
<line x1="3.2" y1="514.0" x2="3.2" y2="515.5" stroke="#888" stroke-width="0.8"/>
<line x1="40.6" y1="604.0" x2="40.6" y2="602.2" stroke="#555" stroke-width="0.8"/>
<line x1="40.6" y1="514.0" x2="40.6" y2="515.5" stroke="#888" stroke-width="0.8"/>
<line x1="78.0" y1="604.0" x2="78.0" y2="602.2" stroke="#555" stroke-width="0.8"/>
<line x1="78.0" y1="514.0" x2="78.0" y2="515.5" stroke="#888" stroke-width="0.8"/>
<line x1="115.4" y1="604.0" x2="115.4" y2="602.2" stroke="#555" stroke-width="0.8"/>
<line x1="115.4" y1="514.0" x2="115.4" y2="515.5" stroke="#888" stroke-width="0.8"/>
<line x1="152.8" y1="604.0" x2="152.8" y2="602.2" stroke="#555" stroke-width="0.8"/>
<line x1="152.8" y1="514.0" x2="152.8" y2="515.5" stroke="#888" stroke-width="0.8"/>
<line x1="190.2" y1="604.0" x2="190.2" y2="602.2" stroke="#555" stroke-width="0.8"/>
<line x1="190.2" y1="514.0" x2="190.2" y2="515.5" stroke="#888" stroke-width="0.8"/>
<line x1="227.6" y1="604.0" x2="227.6" y2="602.2" stroke="#555" stroke-width="0.8"/>
<line x1="227.6" y1="514.0" x2="227.6" y2="515.5" stroke="#888" stroke-width="0.8"/>
<line x1="265.0" y1="604.0" x2="265.0" y2="602.2" stroke="#555" stroke-width="0.8"/>
<line x1="265.0" y1="514.0" x2="265.0" y2="515.5" stroke="#888" stroke-width="0.8"/>
<line x1="302.4" y1="604.0" x2="302.4" y2="602.2" stroke="#555" stroke-width="0.8"/>
<line x1="302.4" y1="514.0" x2="302.4" y2="515.5" stroke="#888" stroke-width="0.8"/>
<line x1="303.6" y1="514.3" x2="307.6" y2="514.3" stroke="#222" stroke-width="0.8"/>
<line x1="303.6" y1="529.2" x2="306.1" y2="529.2" stroke="#222" stroke-width="0.8"/>
<line x1="303.6" y1="544.1" x2="306.1" y2="544.1" stroke="#222" stroke-width="0.8"/>
<line x1="303.6" y1="559.0" x2="307.6" y2="559.0" stroke="#222" stroke-width="0.8"/>
<line x1="303.6" y1="573.9" x2="306.1" y2="573.9" stroke="#222" stroke-width="0.8"/>
<line x1="303.6" y1="588.8" x2="306.1" y2="588.8" stroke="#222" stroke-width="0.8"/>
<line x1="303.6" y1="603.7" x2="307.6" y2="603.7" stroke="#222" stroke-width="0.8"/>
<text x="13.8" y="535.0" font-size="12.5" font-weight="bold" style="stroke:#f4f4f4;stroke-width:1.6px;paint-order:stroke">d</text>
<text x="11.5" y="622.8" font-size="12" text-anchor="middle">160</text>
<text x="153.6" y="622.8" font-size="12" text-anchor="middle">200</text>
<text x="206.3" y="622.8" font-size="11.5" textLength="32.5" lengthAdjust="spacingAndGlyphs">x[μm]</text>
<text x="299.8" y="622.8" font-size="12" text-anchor="middle">240</text>
<text x="306.2" y="522.4" font-size="11" textLength="11.8" lengthAdjust="spacingAndGlyphs">12</text>
<text x="306.2" y="564" font-size="11">0</text>
<text x="305" y="607.4" font-size="11" textLength="17" lengthAdjust="spacingAndGlyphs">-12</text>
<text x="0" y="0" font-size="11.5" transform="translate(324.9,576.5) rotate(-90)" textLength="34.8" lengthAdjust="spacingAndGlyphs">y [μm]</text>
</svg>
</body></html>
